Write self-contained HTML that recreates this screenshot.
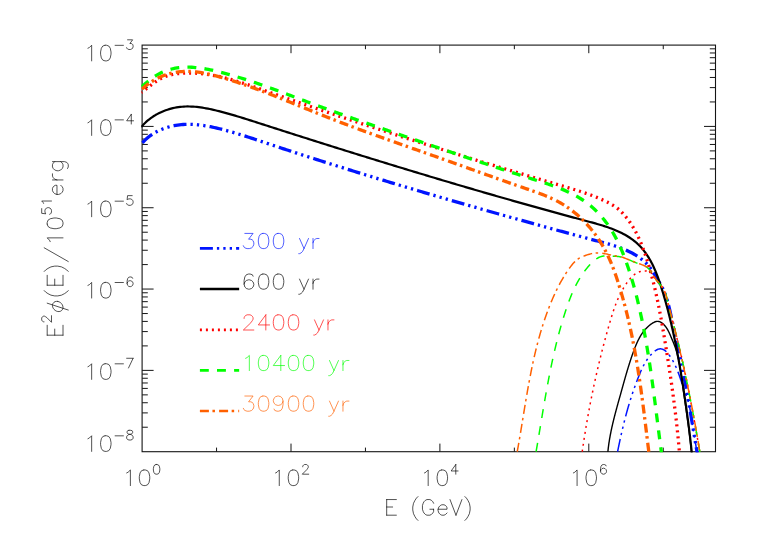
<!DOCTYPE html>
<html><head><meta charset="utf-8"><title>plot</title>
<style>html,body{margin:0;padding:0;background:#fff;font-family:"Liberation Sans",sans-serif;}svg{display:block}</style>
</head><body>
<svg width="758" height="542" viewBox="0 0 758 542">
<rect x="0" y="0" width="758" height="542" fill="#fff"/>
<clipPath id="c"><rect x="141.25" y="44.40" width="574.90" height="407.90"/></clipPath>
<rect x="142.10" y="45.10" width="573.40" height="406.60" fill="none" stroke="#151515" stroke-width="1.10"/>
<line x1="216.55" y1="451.70" x2="216.55" y2="447.60" stroke="#151515" stroke-width="1.00"/>
<line x1="216.55" y1="45.10" x2="216.55" y2="49.20" stroke="#151515" stroke-width="1.00"/>
<line x1="291.00" y1="451.70" x2="291.00" y2="443.60" stroke="#151515" stroke-width="1.00"/>
<line x1="291.00" y1="45.10" x2="291.00" y2="53.20" stroke="#151515" stroke-width="1.00"/>
<line x1="365.45" y1="451.70" x2="365.45" y2="447.60" stroke="#151515" stroke-width="1.00"/>
<line x1="365.45" y1="45.10" x2="365.45" y2="49.20" stroke="#151515" stroke-width="1.00"/>
<line x1="439.90" y1="451.70" x2="439.90" y2="443.60" stroke="#151515" stroke-width="1.00"/>
<line x1="439.90" y1="45.10" x2="439.90" y2="53.20" stroke="#151515" stroke-width="1.00"/>
<line x1="514.35" y1="451.70" x2="514.35" y2="447.60" stroke="#151515" stroke-width="1.00"/>
<line x1="514.35" y1="45.10" x2="514.35" y2="49.20" stroke="#151515" stroke-width="1.00"/>
<line x1="588.80" y1="451.70" x2="588.80" y2="443.60" stroke="#151515" stroke-width="1.00"/>
<line x1="588.80" y1="45.10" x2="588.80" y2="53.20" stroke="#151515" stroke-width="1.00"/>
<line x1="663.25" y1="451.70" x2="663.25" y2="447.60" stroke="#151515" stroke-width="1.00"/>
<line x1="663.25" y1="45.10" x2="663.25" y2="49.20" stroke="#151515" stroke-width="1.00"/>
<line x1="142.10" y1="427.22" x2="147.80" y2="427.22" stroke="#151515" stroke-width="1.00"/>
<line x1="715.50" y1="427.22" x2="709.80" y2="427.22" stroke="#151515" stroke-width="1.00"/>
<line x1="142.10" y1="412.90" x2="147.80" y2="412.90" stroke="#151515" stroke-width="1.00"/>
<line x1="715.50" y1="412.90" x2="709.80" y2="412.90" stroke="#151515" stroke-width="1.00"/>
<line x1="142.10" y1="402.74" x2="147.80" y2="402.74" stroke="#151515" stroke-width="1.00"/>
<line x1="715.50" y1="402.74" x2="709.80" y2="402.74" stroke="#151515" stroke-width="1.00"/>
<line x1="142.10" y1="394.86" x2="147.80" y2="394.86" stroke="#151515" stroke-width="1.00"/>
<line x1="715.50" y1="394.86" x2="709.80" y2="394.86" stroke="#151515" stroke-width="1.00"/>
<line x1="142.10" y1="388.42" x2="147.80" y2="388.42" stroke="#151515" stroke-width="1.00"/>
<line x1="715.50" y1="388.42" x2="709.80" y2="388.42" stroke="#151515" stroke-width="1.00"/>
<line x1="142.10" y1="382.98" x2="147.80" y2="382.98" stroke="#151515" stroke-width="1.00"/>
<line x1="715.50" y1="382.98" x2="709.80" y2="382.98" stroke="#151515" stroke-width="1.00"/>
<line x1="142.10" y1="378.26" x2="147.80" y2="378.26" stroke="#151515" stroke-width="1.00"/>
<line x1="715.50" y1="378.26" x2="709.80" y2="378.26" stroke="#151515" stroke-width="1.00"/>
<line x1="142.10" y1="374.10" x2="147.80" y2="374.10" stroke="#151515" stroke-width="1.00"/>
<line x1="715.50" y1="374.10" x2="709.80" y2="374.10" stroke="#151515" stroke-width="1.00"/>
<line x1="142.10" y1="370.38" x2="153.60" y2="370.38" stroke="#151515" stroke-width="1.00"/>
<line x1="715.50" y1="370.38" x2="704.00" y2="370.38" stroke="#151515" stroke-width="1.00"/>
<line x1="142.10" y1="345.90" x2="147.80" y2="345.90" stroke="#151515" stroke-width="1.00"/>
<line x1="715.50" y1="345.90" x2="709.80" y2="345.90" stroke="#151515" stroke-width="1.00"/>
<line x1="142.10" y1="331.58" x2="147.80" y2="331.58" stroke="#151515" stroke-width="1.00"/>
<line x1="715.50" y1="331.58" x2="709.80" y2="331.58" stroke="#151515" stroke-width="1.00"/>
<line x1="142.10" y1="321.42" x2="147.80" y2="321.42" stroke="#151515" stroke-width="1.00"/>
<line x1="715.50" y1="321.42" x2="709.80" y2="321.42" stroke="#151515" stroke-width="1.00"/>
<line x1="142.10" y1="313.54" x2="147.80" y2="313.54" stroke="#151515" stroke-width="1.00"/>
<line x1="715.50" y1="313.54" x2="709.80" y2="313.54" stroke="#151515" stroke-width="1.00"/>
<line x1="142.10" y1="307.10" x2="147.80" y2="307.10" stroke="#151515" stroke-width="1.00"/>
<line x1="715.50" y1="307.10" x2="709.80" y2="307.10" stroke="#151515" stroke-width="1.00"/>
<line x1="142.10" y1="301.66" x2="147.80" y2="301.66" stroke="#151515" stroke-width="1.00"/>
<line x1="715.50" y1="301.66" x2="709.80" y2="301.66" stroke="#151515" stroke-width="1.00"/>
<line x1="142.10" y1="296.94" x2="147.80" y2="296.94" stroke="#151515" stroke-width="1.00"/>
<line x1="715.50" y1="296.94" x2="709.80" y2="296.94" stroke="#151515" stroke-width="1.00"/>
<line x1="142.10" y1="292.78" x2="147.80" y2="292.78" stroke="#151515" stroke-width="1.00"/>
<line x1="715.50" y1="292.78" x2="709.80" y2="292.78" stroke="#151515" stroke-width="1.00"/>
<line x1="142.10" y1="289.06" x2="153.60" y2="289.06" stroke="#151515" stroke-width="1.00"/>
<line x1="715.50" y1="289.06" x2="704.00" y2="289.06" stroke="#151515" stroke-width="1.00"/>
<line x1="142.10" y1="264.58" x2="147.80" y2="264.58" stroke="#151515" stroke-width="1.00"/>
<line x1="715.50" y1="264.58" x2="709.80" y2="264.58" stroke="#151515" stroke-width="1.00"/>
<line x1="142.10" y1="250.26" x2="147.80" y2="250.26" stroke="#151515" stroke-width="1.00"/>
<line x1="715.50" y1="250.26" x2="709.80" y2="250.26" stroke="#151515" stroke-width="1.00"/>
<line x1="142.10" y1="240.10" x2="147.80" y2="240.10" stroke="#151515" stroke-width="1.00"/>
<line x1="715.50" y1="240.10" x2="709.80" y2="240.10" stroke="#151515" stroke-width="1.00"/>
<line x1="142.10" y1="232.22" x2="147.80" y2="232.22" stroke="#151515" stroke-width="1.00"/>
<line x1="715.50" y1="232.22" x2="709.80" y2="232.22" stroke="#151515" stroke-width="1.00"/>
<line x1="142.10" y1="225.78" x2="147.80" y2="225.78" stroke="#151515" stroke-width="1.00"/>
<line x1="715.50" y1="225.78" x2="709.80" y2="225.78" stroke="#151515" stroke-width="1.00"/>
<line x1="142.10" y1="220.34" x2="147.80" y2="220.34" stroke="#151515" stroke-width="1.00"/>
<line x1="715.50" y1="220.34" x2="709.80" y2="220.34" stroke="#151515" stroke-width="1.00"/>
<line x1="142.10" y1="215.62" x2="147.80" y2="215.62" stroke="#151515" stroke-width="1.00"/>
<line x1="715.50" y1="215.62" x2="709.80" y2="215.62" stroke="#151515" stroke-width="1.00"/>
<line x1="142.10" y1="211.46" x2="147.80" y2="211.46" stroke="#151515" stroke-width="1.00"/>
<line x1="715.50" y1="211.46" x2="709.80" y2="211.46" stroke="#151515" stroke-width="1.00"/>
<line x1="142.10" y1="207.74" x2="153.60" y2="207.74" stroke="#151515" stroke-width="1.00"/>
<line x1="715.50" y1="207.74" x2="704.00" y2="207.74" stroke="#151515" stroke-width="1.00"/>
<line x1="142.10" y1="183.26" x2="147.80" y2="183.26" stroke="#151515" stroke-width="1.00"/>
<line x1="715.50" y1="183.26" x2="709.80" y2="183.26" stroke="#151515" stroke-width="1.00"/>
<line x1="142.10" y1="168.94" x2="147.80" y2="168.94" stroke="#151515" stroke-width="1.00"/>
<line x1="715.50" y1="168.94" x2="709.80" y2="168.94" stroke="#151515" stroke-width="1.00"/>
<line x1="142.10" y1="158.78" x2="147.80" y2="158.78" stroke="#151515" stroke-width="1.00"/>
<line x1="715.50" y1="158.78" x2="709.80" y2="158.78" stroke="#151515" stroke-width="1.00"/>
<line x1="142.10" y1="150.90" x2="147.80" y2="150.90" stroke="#151515" stroke-width="1.00"/>
<line x1="715.50" y1="150.90" x2="709.80" y2="150.90" stroke="#151515" stroke-width="1.00"/>
<line x1="142.10" y1="144.46" x2="147.80" y2="144.46" stroke="#151515" stroke-width="1.00"/>
<line x1="715.50" y1="144.46" x2="709.80" y2="144.46" stroke="#151515" stroke-width="1.00"/>
<line x1="142.10" y1="139.02" x2="147.80" y2="139.02" stroke="#151515" stroke-width="1.00"/>
<line x1="715.50" y1="139.02" x2="709.80" y2="139.02" stroke="#151515" stroke-width="1.00"/>
<line x1="142.10" y1="134.30" x2="147.80" y2="134.30" stroke="#151515" stroke-width="1.00"/>
<line x1="715.50" y1="134.30" x2="709.80" y2="134.30" stroke="#151515" stroke-width="1.00"/>
<line x1="142.10" y1="130.14" x2="147.80" y2="130.14" stroke="#151515" stroke-width="1.00"/>
<line x1="715.50" y1="130.14" x2="709.80" y2="130.14" stroke="#151515" stroke-width="1.00"/>
<line x1="142.10" y1="126.42" x2="153.60" y2="126.42" stroke="#151515" stroke-width="1.00"/>
<line x1="715.50" y1="126.42" x2="704.00" y2="126.42" stroke="#151515" stroke-width="1.00"/>
<line x1="142.10" y1="101.94" x2="147.80" y2="101.94" stroke="#151515" stroke-width="1.00"/>
<line x1="715.50" y1="101.94" x2="709.80" y2="101.94" stroke="#151515" stroke-width="1.00"/>
<line x1="142.10" y1="87.62" x2="147.80" y2="87.62" stroke="#151515" stroke-width="1.00"/>
<line x1="715.50" y1="87.62" x2="709.80" y2="87.62" stroke="#151515" stroke-width="1.00"/>
<line x1="142.10" y1="77.46" x2="147.80" y2="77.46" stroke="#151515" stroke-width="1.00"/>
<line x1="715.50" y1="77.46" x2="709.80" y2="77.46" stroke="#151515" stroke-width="1.00"/>
<line x1="142.10" y1="69.58" x2="147.80" y2="69.58" stroke="#151515" stroke-width="1.00"/>
<line x1="715.50" y1="69.58" x2="709.80" y2="69.58" stroke="#151515" stroke-width="1.00"/>
<line x1="142.10" y1="63.14" x2="147.80" y2="63.14" stroke="#151515" stroke-width="1.00"/>
<line x1="715.50" y1="63.14" x2="709.80" y2="63.14" stroke="#151515" stroke-width="1.00"/>
<line x1="142.10" y1="57.70" x2="147.80" y2="57.70" stroke="#151515" stroke-width="1.00"/>
<line x1="715.50" y1="57.70" x2="709.80" y2="57.70" stroke="#151515" stroke-width="1.00"/>
<line x1="142.10" y1="52.98" x2="147.80" y2="52.98" stroke="#151515" stroke-width="1.00"/>
<line x1="715.50" y1="52.98" x2="709.80" y2="52.98" stroke="#151515" stroke-width="1.00"/>
<line x1="142.10" y1="48.82" x2="147.80" y2="48.82" stroke="#151515" stroke-width="1.00"/>
<line x1="715.50" y1="48.82" x2="709.80" y2="48.82" stroke="#151515" stroke-width="1.00"/>
<g clip-path="url(#c)">
<path d="M141.16 144.45 L142.31 143.02 L143.52 141.66 L144.79 140.34 L146.10 139.09 L147.46 137.88 L148.87 136.73 L150.33 135.64 L151.82 134.59 L153.36 133.60 L154.93 132.67 L156.54 131.78 L158.18 130.95 L159.84 130.17 L161.54 129.44 L163.26 128.76 L165.01 128.12 L166.77 127.54 L168.55 127.01 L170.35 126.53 L172.16 126.10 L173.98 125.72 L175.81 125.38 L177.64 125.09 L179.48 124.85 L181.32 124.65 L183.16 124.51 L185.00 124.40 L186.84 124.34 L188.67 124.33 L190.51 124.35 L192.34 124.41 L194.17 124.50 L196.00 124.64 L197.83 124.80 L199.65 125.00 L201.47 125.22 L203.29 125.48 L205.11 125.76 L206.92 126.06 L208.74 126.39 L210.54 126.74 L212.35 127.11 L214.15 127.50 L215.95 127.91 L217.75 128.33 L219.54 128.76 L221.33 129.21 L223.12 129.67 L224.90 130.13 L226.68 130.61 L228.45 131.10 L230.23 131.60 L232.00 132.10 L233.77 132.62 L235.53 133.14 L237.30 133.67 L239.06 134.21 L240.82 134.75 L242.58 135.30 L244.33 135.85 L246.09 136.41 L247.84 136.98 L249.59 137.55 L251.34 138.12 L253.09 138.69 L254.84 139.27 L256.59 139.85 L258.34 140.43 L260.09 141.02 L261.83 141.60 L263.58 142.18 L265.33 142.77 L267.08 143.35 L268.83 143.93 L270.58 144.51 L272.32 145.09 L274.07 145.67 L275.82 146.25 L277.57 146.83 L279.32 147.41 L281.07 147.98 L282.82 148.56 L284.57 149.13 L286.32 149.71 L288.07 150.28 L289.83 150.85 L291.58 151.43 L293.33 152.00 L295.08 152.57 L296.83 153.14 L298.59 153.70 L300.34 154.27 L302.09 154.84 L303.85 155.41 L305.60 155.97 L307.35 156.54 L309.11 157.10 L310.86 157.66 L312.61 158.23 L314.37 158.79 L316.12 159.35 L317.88 159.91 L319.63 160.47 L321.39 161.03 L323.15 161.59 L324.90 162.15 L326.66 162.70 L328.41 163.26 L330.17 163.81 L331.93 164.37 L333.69 164.92 L335.44 165.48 L337.20 166.03 L338.96 166.58 L340.72 167.13 L342.47 167.68 L344.23 168.23 L345.99 168.78 L347.75 169.33 L349.51 169.88 L351.27 170.43 L353.03 170.97 L354.79 171.52 L356.55 172.06 L358.31 172.61 L360.07 173.15 L361.83 173.70 L363.59 174.24 L365.35 174.78 L367.11 175.32 L368.87 175.86 L370.63 176.40 L372.40 176.94 L374.16 177.48 L375.92 178.02 L377.68 178.56 L379.44 179.09 L381.21 179.63 L382.97 180.16 L384.73 180.70 L386.50 181.23 L388.26 181.77 L390.02 182.30 L391.79 182.83 L393.55 183.36 L395.31 183.89 L397.08 184.43 L398.84 184.96 L400.61 185.48 L402.37 186.01 L404.14 186.54 L405.90 187.07 L407.67 187.60 L409.43 188.12 L411.20 188.65 L412.96 189.17 L414.73 189.70 L416.50 190.22 L418.26 190.74 L420.03 191.27 L421.80 191.79 L423.56 192.31 L425.33 192.83 L427.10 193.35 L428.86 193.87 L430.63 194.39 L432.40 194.91 L434.17 195.43 L435.94 195.95 L437.70 196.46 L439.47 196.98 L441.24 197.50 L443.01 198.01 L444.78 198.53 L446.55 199.04 L448.32 199.56 L450.08 200.07 L451.85 200.58 L453.62 201.10 L455.39 201.61 L457.16 202.12 L458.93 202.63 L460.70 203.14 L462.47 203.65 L464.24 204.16 L466.01 204.67 L467.78 205.18 L469.55 205.68 L471.32 206.19 L473.10 206.70 L474.87 207.20 L476.64 207.71 L478.41 208.21 L480.18 208.72 L481.95 209.22 L483.72 209.73 L485.50 210.23 L487.27 210.73 L489.04 211.24 L490.81 211.74 L492.58 212.24 L494.36 212.74 L496.13 213.24 L497.90 213.74 L499.68 214.24 L501.45 214.74 L503.22 215.24 L504.99 215.74 L506.77 216.23 L508.54 216.73 L510.31 217.23 L512.09 217.73 L513.86 218.22 L515.64 218.72 L517.41 219.21 L519.18 219.71 L520.96 220.20 L522.73 220.69 L524.51 221.19 L526.28 221.68 L528.05 222.17 L529.83 222.67 L531.60 223.16 L533.38 223.65 L535.15 224.14 L536.93 224.63 L538.70 225.12 L540.48 225.61 L542.25 226.10 L544.03 226.59 L545.80 227.08 L547.58 227.57 L549.36 228.05 L551.13 228.54 L552.91 229.03 L554.68 229.51 L556.46 230.00 L558.24 230.49 L560.01 230.97 L561.79 231.46 L563.57 231.94 L565.34 232.42 L567.12 232.91 L568.90 233.39 L570.68 233.87 L572.46 234.35 L574.24 234.83 L576.02 235.31 L577.80 235.79 L579.58 236.27 L581.36 236.75 L583.14 237.23 L584.92 237.70 L586.70 238.18 L588.48 238.66 L590.27 239.13 L592.05 239.60 L593.84 240.08 L595.62 240.55 L597.41 241.02 L599.19 241.49 L600.98 241.97 L602.76 242.44 L604.55 242.92 L606.33 243.41 L608.10 243.91 L609.87 244.42 L611.64 244.95 L613.40 245.49 L615.15 246.04 L616.90 246.62 L618.63 247.22 L620.36 247.85 L622.07 248.50 L623.78 249.18 L625.47 249.89 L627.15 250.63 L628.81 251.40 L630.46 252.22 L632.09 253.07 L633.71 253.96 L635.30 254.90 L636.88 255.88 L638.42 256.90 L639.93 257.96 L641.40 259.07 L642.84 260.22 L644.23 261.43 L645.58 262.67 L646.87 263.97 L648.12 265.32 L649.30 266.71 L650.42 268.16 L651.48 269.65 L652.49 271.19 L653.46 272.76 L654.40 274.35 L655.33 275.95 L656.26 277.55 L657.20 279.14 L658.17 280.71 L659.16 282.26 L660.14 283.81 L661.08 285.38 L661.96 286.97 L662.79 288.59 L663.56 290.24 L664.29 291.90 L664.97 293.59 L665.61 295.29 L666.21 297.01 L666.78 298.75 L667.31 300.50 L667.81 302.27 L668.29 304.04 L668.75 305.83 L669.19 307.62 L669.61 309.42 L670.02 311.23 L670.42 313.03 L670.82 314.84 L671.21 316.66 L671.61 318.46 L672.00 320.27 L672.40 322.08 L672.80 323.88 L673.20 325.69 L673.60 327.49 L674.00 329.29 L674.40 331.09 L674.80 332.89 L675.20 334.69 L675.60 336.49 L676.00 338.29 L676.40 340.09 L676.79 341.89 L677.19 343.68 L677.59 345.48 L677.98 347.28 L678.37 349.08 L678.76 350.87 L679.15 352.67 L679.54 354.47 L679.92 356.27 L680.30 358.07 L680.68 359.87 L681.05 361.67 L681.43 363.47 L681.80 365.27 L682.16 367.07 L682.52 368.88 L682.88 370.68 L683.24 372.49 L683.59 374.29 L683.94 376.10 L684.28 377.91 L684.62 379.72 L684.96 381.53 L685.30 383.34 L685.63 385.15 L685.96 386.97 L686.29 388.78 L686.62 390.59 L686.94 392.41 L687.26 394.22 L687.58 396.04 L687.90 397.86 L688.22 399.67 L688.53 401.49 L688.85 403.31 L689.16 405.12 L689.47 406.94 L689.78 408.76 L690.09 410.58 L690.39 412.39 L690.70 414.21 L691.00 416.03 L691.31 417.85 L691.61 419.67 L691.92 421.49 L692.22 423.31 L692.52 425.12 L692.82 426.94 L693.13 428.76 L693.43 430.58 L693.73 432.40 L694.04 434.21 L694.34 436.03 L694.64 437.85 L694.95 439.66 L695.25 441.48 L695.56 443.29 L695.87 445.11 L696.18 446.92 L696.49 448.74 L696.80 450.55 L697.11 452.36 L697.42 454.17 L697.74 455.98" fill="none" stroke="#0014ff" stroke-width="3.30" stroke-linejoin="round" stroke-dasharray="13.00 4.00 2.30 4.10 2.30 4.10 2.30 4.10" stroke-dashoffset="-2.00"/>
<path d="M617.59 451.70 L617.70 451.13 L617.82 450.56 L617.93 449.99 L618.05 449.42 L618.16 448.85 L618.28 448.28 L618.39 447.71 L618.51 447.15 L618.63 446.58 L618.74 446.01 L618.86 445.44 L618.98 444.87 L619.10 444.30 L619.22 443.73 L619.34 443.16 L619.46 442.60 L619.58 442.03 L619.70 441.46 L619.82 440.89 L619.94 440.32 L620.07 439.76 L620.19 439.19 L620.31 438.62 L620.44 438.05 L620.56 437.49 L620.69 436.92 L620.81 436.35 L620.94 435.79 L621.07 435.22 L621.19 434.65 L621.32 434.09 L621.45 433.52 L621.58 432.95 L621.71 432.39 L621.84 431.82 L621.97 431.26 L622.10 430.69 L622.23 430.12 L622.36 429.56 L622.49 428.99 L622.63 428.43 L622.76 427.86 L622.90 427.30 L623.03 426.73 L623.17 426.17 L623.30 425.61 L623.44 425.04 L623.58 424.48 L623.72 423.91 L623.86 423.35 L624.00 422.79 L624.14 422.22 L624.28 421.66 L624.42 421.10 L624.56 420.54 L624.71 419.97 L624.85 419.41 L624.99 418.85 L625.14 418.29 L625.29 417.73 L625.43 417.17 L625.58 416.60 L625.73 416.04 L625.88 415.48 L626.03 414.92 L626.18 414.36 L626.33 413.80 L626.48 413.24 L626.63 412.68 L626.79 412.12 L626.94 411.57 L627.10 411.01 L627.25 410.45 L627.41 409.89 L627.57 409.33 L627.72 408.77 L627.88 408.22 L628.04 407.66 L628.20 407.10 L628.36 406.54 L628.53 405.99 L628.69 405.43 L628.85 404.87 L629.02 404.32 L629.19 403.76 L629.35 403.21 L629.52 402.65 L629.69 402.10 L629.86 401.54 L630.03 400.99 L630.20 400.44 L630.37 399.88 L630.54 399.33 L630.72 398.77 L630.89 398.22 L631.07 397.67 L631.24 397.12 L631.42 396.56 L631.60 396.01 L631.78 395.46 L631.96 394.91 L632.14 394.36 L632.32 393.81 L632.51 393.26 L632.69 392.71 L632.88 392.16 L633.06 391.61 L633.25 391.06 L633.44 390.51 L633.63 389.96 L633.82 389.42 L634.01 388.87 L634.20 388.32 L634.39 387.77 L634.59 387.23 L634.78 386.68 L634.98 386.14 L635.18 385.59 L635.38 385.04 L635.58 384.50 L635.78 383.95 L635.98 383.41 L636.18 382.87 L636.39 382.32 L636.59 381.78 L636.80 381.24 L637.00 380.69 L637.21 380.15 L637.42 379.61 L637.63 379.07 L637.84 378.53 L638.06 377.99 L638.27 377.45 L638.49 376.91 L638.70 376.37 L638.92 375.83 L639.14 375.29 L639.36 374.75 L639.58 374.21 L639.80 373.68 L640.03 373.14 L640.25 372.60 L640.48 372.07 L640.71 371.54 L640.95 371.00 L641.18 370.47 L641.42 369.94 L641.66 369.41 L641.91 368.89 L642.16 368.36 L642.41 367.84 L642.66 367.31 L642.92 366.79 L643.18 366.27 L643.45 365.76 L643.72 365.24 L643.99 364.73 L644.27 364.22 L644.55 363.71 L644.84 363.21 L645.14 362.71 L645.44 362.21 L645.74 361.71 L646.05 361.21 L646.36 360.72 L646.68 360.24 L647.01 359.75 L647.34 359.27 L647.68 358.79 L648.03 358.32 L648.38 357.84 L648.74 357.38 L649.10 356.91 L649.48 356.45 L649.86 356.00 L650.24 355.54 L650.64 355.10 L651.04 354.65 L651.45 354.21 L651.87 353.78 L652.30 353.35 L652.73 352.92 L653.17 352.50 L653.62 352.09 L654.08 351.69 L654.55 351.31 L655.02 350.95 L655.50 350.60 L655.98 350.28 L656.47 349.98 L656.97 349.71 L657.47 349.48 L657.97 349.27 L658.48 349.11 L659.00 348.98 L659.51 348.89 L660.04 348.85 L660.56 348.85 L661.08 348.90 L661.60 348.98 L662.12 349.11 L662.63 349.27 L663.14 349.47 L663.64 349.70 L664.12 349.97 L664.60 350.27 L665.06 350.60 L665.52 350.95 L665.96 351.33 L666.38 351.74 L666.80 352.16 L667.21 352.60 L667.61 353.06 L668.00 353.52 L668.38 354.00 L668.75 354.48 L669.12 354.97 L669.48 355.46 L669.83 355.96 L670.17 356.45 L670.51 356.95 L670.84 357.45 L671.17 357.95 L671.49 358.45 L671.80 358.96 L672.11 359.46 L672.41 359.97 L672.70 360.48 L672.99 361.00 L673.28 361.51 L673.56 362.02 L673.83 362.54 L674.10 363.06 L674.36 363.58 L674.62 364.10 L674.87 364.62 L675.12 365.15 L675.37 365.67 L675.61 366.20 L675.85 366.73 L676.08 367.26 L676.31 367.79 L676.54 368.32 L676.76 368.85 L676.98 369.39 L677.20 369.92 L677.41 370.46 L677.62 370.99 L677.83 371.53 L678.03 372.07 L678.24 372.61 L678.44 373.15 L678.63 373.69 L678.83 374.24 L679.02 374.78 L679.22 375.32 L679.41 375.87 L679.60 376.41 L679.78 376.96 L679.97 377.50 L680.16 378.05 L680.34 378.60 L680.53 379.14 L680.71 379.69 L680.89 380.24 L681.07 380.79 L681.26 381.34 L681.44 381.88 L681.62 382.43 L681.80 382.98 L681.99 383.53 L682.17 384.08 L682.35 384.63 L682.54 385.18 L682.72 385.73 L682.91 386.28 L683.10 386.83 L683.29 387.38 L683.48 387.93 L683.67 388.47 L683.86 389.02 L684.06 389.57 L684.26 390.12 L684.46 390.67 L684.66 391.21 L684.86 391.76 L685.06 392.31 L685.27 392.86 L685.47 393.40 L685.68 393.95 L685.88 394.50 L686.08 395.04 L686.28 395.59 L686.48 396.14 L686.68 396.69 L686.88 397.24 L687.07 397.79 L687.26 398.34 L687.44 398.89 L687.63 399.45 L687.80 400.00 L687.98 400.55 L688.14 401.11 L688.31 401.67 L688.46 402.22 L688.62 402.78 L688.76 403.35 L688.90 403.91 L689.04 404.47 L689.17 405.03 L689.29 405.60 L689.41 406.17 L689.53 406.73 L689.64 407.30 L689.75 407.87 L689.86 408.44 L689.96 409.01 L690.06 409.58 L690.16 410.15 L690.25 410.73 L690.34 411.30 L690.43 411.87 L690.52 412.45 L690.60 413.02 L690.69 413.60 L690.77 414.17 L690.85 414.75 L690.94 415.32 L691.02 415.90 L691.10 416.47 L691.18 417.05 L691.26 417.62 L691.34 418.20 L691.43 418.78 L691.51 419.35 L691.60 419.93 L691.68 420.50 L691.77 421.07 L691.86 421.65 L691.95 422.22 L692.04 422.80 L692.13 423.37 L692.23 423.94 L692.32 424.52 L692.42 425.09 L692.52 425.66 L692.61 426.23 L692.71 426.81 L692.81 427.38 L692.91 427.95 L693.01 428.52 L693.11 429.09 L693.21 429.67 L693.31 430.24 L693.41 430.81 L693.51 431.38 L693.61 431.95 L693.71 432.52 L693.81 433.10 L693.92 433.67 L694.02 434.24 L694.12 434.81 L694.21 435.38 L694.31 435.95 L694.41 436.53 L694.51 437.10 L694.61 437.67 L694.70 438.24 L694.80 438.81 L694.90 439.39 L694.99 439.96 L695.09 440.53 L695.18 441.10 L695.27 441.68 L695.37 442.25 L695.46 442.82 L695.55 443.40 L695.64 443.97 L695.74 444.54 L695.83 445.11 L695.92 445.69 L696.01 446.26 L696.10 446.83 L696.19 447.41 L696.29 447.98 L696.38 448.55 L696.47 449.13 L696.56 449.70 L696.65 450.27 L696.75 450.85 L696.84 451.42 L696.93 451.99 L697.03 452.56 L697.12 453.14 L697.22 453.71 L697.31 454.28 L697.41 454.86 L697.50 455.43 L697.60 456.00" fill="none" stroke="#0014ff" stroke-width="1.50" stroke-linejoin="round" stroke-dasharray="13.00 4.00 2.30 4.10 2.30 4.10 2.30 4.10" stroke-dashoffset="0.00"/>
<path d="M141.20 127.07 L142.43 125.65 L143.71 124.27 L145.04 122.95 L146.41 121.67 L147.82 120.45 L149.28 119.27 L150.78 118.14 L152.31 117.07 L153.88 116.04 L155.48 115.07 L157.11 114.14 L158.78 113.27 L160.47 112.45 L162.18 111.68 L163.91 110.96 L165.67 110.30 L167.45 109.69 L169.24 109.13 L171.04 108.62 L172.86 108.17 L174.68 107.77 L176.52 107.43 L178.36 107.14 L180.20 106.90 L182.05 106.72 L183.89 106.58 L185.74 106.50 L187.59 106.47 L189.44 106.48 L191.29 106.54 L193.14 106.63 L194.99 106.77 L196.84 106.94 L198.69 107.15 L200.54 107.39 L202.38 107.67 L204.23 107.97 L206.07 108.30 L207.92 108.65 L209.76 109.03 L211.59 109.42 L213.43 109.84 L215.26 110.27 L217.09 110.71 L218.92 111.17 L220.74 111.64 L222.55 112.12 L224.37 112.60 L226.18 113.10 L227.99 113.60 L229.79 114.11 L231.59 114.63 L233.39 115.15 L235.19 115.68 L236.98 116.22 L238.78 116.76 L240.57 117.31 L242.36 117.86 L244.14 118.41 L245.93 118.97 L247.71 119.54 L249.50 120.10 L251.28 120.67 L253.06 121.24 L254.84 121.81 L256.62 122.38 L258.40 122.95 L260.18 123.53 L261.96 124.10 L263.74 124.67 L265.52 125.24 L267.30 125.81 L269.08 126.39 L270.86 126.96 L272.64 127.53 L274.42 128.10 L276.20 128.67 L277.99 129.24 L279.77 129.81 L281.55 130.38 L283.33 130.95 L285.11 131.52 L286.89 132.09 L288.67 132.65 L290.45 133.22 L292.24 133.79 L294.02 134.36 L295.80 134.93 L297.58 135.49 L299.36 136.06 L301.14 136.63 L302.93 137.19 L304.71 137.76 L306.49 138.32 L308.27 138.89 L310.06 139.45 L311.84 140.02 L313.62 140.58 L315.40 141.15 L317.19 141.71 L318.97 142.27 L320.75 142.84 L322.54 143.40 L324.32 143.96 L326.10 144.52 L327.89 145.08 L329.67 145.65 L331.45 146.21 L333.24 146.77 L335.02 147.33 L336.81 147.89 L338.59 148.45 L340.37 149.01 L342.16 149.56 L343.94 150.12 L345.73 150.68 L347.51 151.24 L349.30 151.80 L351.08 152.35 L352.87 152.91 L354.65 153.46 L356.44 154.02 L358.22 154.58 L360.01 155.13 L361.80 155.69 L363.58 156.24 L365.37 156.79 L367.15 157.35 L368.94 157.90 L370.73 158.45 L372.51 159.00 L374.30 159.56 L376.09 160.11 L377.87 160.66 L379.66 161.21 L381.45 161.76 L383.23 162.31 L385.02 162.86 L386.81 163.41 L388.60 163.95 L390.38 164.50 L392.17 165.05 L393.96 165.60 L395.75 166.14 L397.54 166.69 L399.33 167.23 L401.12 167.78 L402.90 168.32 L404.69 168.87 L406.48 169.41 L408.27 169.96 L410.06 170.50 L411.85 171.04 L413.64 171.58 L415.43 172.12 L417.22 172.67 L419.01 173.21 L420.80 173.75 L422.59 174.29 L424.38 174.82 L426.17 175.36 L427.96 175.90 L429.76 176.44 L431.55 176.98 L433.34 177.51 L435.13 178.05 L436.92 178.58 L438.71 179.12 L440.51 179.65 L442.30 180.19 L444.09 180.72 L445.88 181.25 L447.68 181.79 L449.47 182.32 L451.26 182.85 L453.06 183.38 L454.85 183.91 L456.64 184.44 L458.44 184.97 L460.23 185.50 L462.02 186.02 L463.82 186.55 L465.61 187.08 L467.41 187.61 L469.20 188.13 L471.00 188.66 L472.79 189.18 L474.59 189.71 L476.38 190.23 L478.18 190.75 L479.98 191.27 L481.77 191.80 L483.57 192.32 L485.37 192.84 L487.16 193.36 L488.96 193.88 L490.76 194.40 L492.55 194.91 L494.35 195.43 L496.15 195.95 L497.95 196.47 L499.75 196.98 L501.54 197.50 L503.34 198.01 L505.14 198.53 L506.94 199.04 L508.74 199.55 L510.54 200.06 L512.34 200.57 L514.14 201.09 L515.94 201.60 L517.74 202.11 L519.54 202.61 L521.34 203.12 L523.14 203.63 L524.94 204.14 L526.74 204.64 L528.54 205.15 L530.34 205.65 L532.15 206.16 L533.95 206.66 L535.75 207.17 L537.55 207.67 L539.35 208.17 L541.16 208.67 L542.96 209.17 L544.76 209.67 L546.57 210.17 L548.37 210.67 L550.18 211.17 L551.98 211.66 L553.78 212.16 L555.59 212.66 L557.39 213.15 L559.20 213.64 L561.00 214.14 L562.81 214.63 L564.61 215.12 L566.42 215.61 L568.23 216.11 L570.03 216.60 L571.84 217.08 L573.65 217.57 L575.45 218.06 L577.26 218.55 L579.07 219.03 L580.88 219.52 L582.68 220.00 L584.49 220.49 L586.30 220.97 L588.11 221.46 L589.92 221.94 L591.72 222.43 L593.53 222.93 L595.33 223.43 L597.13 223.94 L598.93 224.47 L600.72 225.00 L602.51 225.56 L604.29 226.12 L606.06 226.71 L607.84 227.31 L609.60 227.94 L611.36 228.59 L613.10 229.27 L614.84 229.97 L616.57 230.70 L618.30 231.46 L620.01 232.25 L621.70 233.08 L623.38 233.94 L625.04 234.84 L626.67 235.77 L628.28 236.74 L629.86 237.76 L631.40 238.81 L632.91 239.90 L634.38 241.04 L635.81 242.22 L637.19 243.44 L638.54 244.70 L639.83 246.00 L641.08 247.34 L642.29 248.71 L643.46 250.12 L644.58 251.56 L645.67 253.03 L646.71 254.54 L647.72 256.07 L648.70 257.63 L649.64 259.22 L650.55 260.83 L651.42 262.46 L652.27 264.12 L653.09 265.80 L653.88 267.49 L654.64 269.21 L655.38 270.94 L656.10 272.68 L656.79 274.44 L657.47 276.21 L658.12 277.99 L658.76 279.78 L659.39 281.58 L659.99 283.38 L660.59 285.19 L661.17 287.00 L661.74 288.82 L662.30 290.63 L662.86 292.45 L663.40 294.26 L663.94 296.07 L664.47 297.89 L664.99 299.70 L665.50 301.51 L666.01 303.32 L666.51 305.14 L667.00 306.95 L667.48 308.76 L667.96 310.57 L668.43 312.39 L668.89 314.20 L669.35 316.01 L669.80 317.83 L670.24 319.64 L670.68 321.45 L671.11 323.27 L671.53 325.08 L671.95 326.89 L672.36 328.71 L672.77 330.52 L673.17 332.34 L673.57 334.16 L673.96 335.97 L674.34 337.79 L674.72 339.61 L675.10 341.43 L675.47 343.25 L675.83 345.07 L676.19 346.89 L676.55 348.71 L676.90 350.54 L677.25 352.36 L677.59 354.19 L677.93 356.01 L678.27 357.84 L678.60 359.67 L678.92 361.50 L679.25 363.33 L679.57 365.16 L679.89 367.00 L680.20 368.83 L680.52 370.67 L680.82 372.51 L681.13 374.35 L681.43 376.19 L681.73 378.03 L682.03 379.87 L682.33 381.72 L682.62 383.57 L682.92 385.42 L683.21 387.27 L683.49 389.12 L683.78 390.98 L684.06 392.83 L684.35 394.69 L684.63 396.55 L684.90 398.40 L685.18 400.27 L685.45 402.13 L685.72 403.99 L685.99 405.85 L686.25 407.71 L686.52 409.58 L686.78 411.44 L687.04 413.30 L687.29 415.17 L687.54 417.03 L687.79 418.89 L688.04 420.76 L688.28 422.62 L688.52 424.48 L688.76 426.35 L689.00 428.21 L689.23 430.07 L689.46 431.93 L689.68 433.78 L689.91 435.64 L690.13 437.50 L690.34 439.35 L690.55 441.21 L690.76 443.06 L690.97 444.91 L691.17 446.75 L691.37 448.60 L691.57 450.44 L691.76 452.29 L691.95 454.12 L692.13 455.96" fill="none" stroke="#000000" stroke-width="2.20" stroke-linejoin="round"/>
<path d="M607.90 451.70 L607.97 450.98 L608.04 450.27 L608.11 449.56 L608.19 448.85 L608.28 448.14 L608.36 447.44 L608.45 446.73 L608.54 446.02 L608.63 445.31 L608.73 444.60 L608.83 443.89 L608.93 443.18 L609.04 442.47 L609.15 441.77 L609.26 441.06 L609.37 440.35 L609.49 439.65 L609.60 438.94 L609.73 438.23 L609.85 437.53 L609.98 436.82 L610.10 436.11 L610.23 435.41 L610.37 434.70 L610.50 434.00 L610.64 433.29 L610.78 432.59 L610.92 431.88 L611.07 431.18 L611.21 430.47 L611.36 429.77 L611.51 429.06 L611.66 428.36 L611.82 427.66 L611.97 426.95 L612.13 426.25 L612.29 425.55 L612.45 424.85 L612.61 424.15 L612.78 423.44 L612.94 422.74 L613.11 422.04 L613.28 421.34 L613.45 420.64 L613.62 419.94 L613.79 419.24 L613.97 418.54 L614.14 417.84 L614.32 417.14 L614.50 416.44 L614.68 415.74 L614.86 415.04 L615.04 414.34 L615.22 413.64 L615.41 412.94 L615.59 412.25 L615.78 411.55 L615.96 410.85 L616.15 410.15 L616.34 409.46 L616.52 408.76 L616.71 408.06 L616.90 407.37 L617.09 406.67 L617.28 405.97 L617.48 405.28 L617.67 404.58 L617.86 403.89 L618.05 403.19 L618.24 402.50 L618.44 401.81 L618.63 401.11 L618.83 400.42 L619.02 399.73 L619.21 399.03 L619.41 398.34 L619.60 397.65 L619.79 396.95 L619.99 396.26 L620.18 395.57 L620.38 394.88 L620.57 394.19 L620.76 393.50 L620.96 392.81 L621.15 392.12 L621.34 391.43 L621.53 390.74 L621.72 390.05 L621.92 389.36 L622.11 388.67 L622.30 387.98 L622.49 387.29 L622.68 386.60 L622.87 385.91 L623.07 385.23 L623.26 384.54 L623.45 383.85 L623.64 383.16 L623.83 382.48 L624.03 381.79 L624.22 381.10 L624.41 380.42 L624.61 379.73 L624.80 379.04 L625.00 378.36 L625.19 377.67 L625.39 376.99 L625.58 376.30 L625.78 375.62 L625.98 374.93 L626.18 374.25 L626.38 373.56 L626.58 372.88 L626.78 372.19 L626.98 371.51 L627.19 370.82 L627.39 370.14 L627.60 369.45 L627.80 368.77 L628.01 368.09 L628.22 367.40 L628.43 366.72 L628.64 366.03 L628.85 365.35 L629.07 364.67 L629.28 363.98 L629.50 363.30 L629.72 362.62 L629.94 361.93 L630.16 361.25 L630.38 360.57 L630.61 359.88 L630.83 359.20 L631.06 358.52 L631.29 357.83 L631.52 357.15 L631.76 356.47 L631.99 355.78 L632.23 355.10 L632.47 354.42 L632.71 353.73 L632.95 353.05 L633.20 352.37 L633.45 351.68 L633.70 351.00 L633.95 350.32 L634.21 349.63 L634.46 348.95 L634.72 348.27 L634.99 347.59 L635.26 346.91 L635.53 346.23 L635.80 345.56 L636.08 344.88 L636.37 344.21 L636.66 343.55 L636.95 342.88 L637.25 342.22 L637.56 341.56 L637.87 340.90 L638.18 340.25 L638.51 339.61 L638.84 338.96 L639.17 338.33 L639.51 337.69 L639.86 337.06 L640.22 336.44 L640.59 335.82 L640.96 335.21 L641.34 334.61 L641.73 334.01 L642.13 333.42 L642.53 332.83 L642.95 332.25 L643.37 331.68 L643.81 331.12 L644.25 330.56 L644.70 330.02 L645.17 329.48 L645.64 328.95 L646.13 328.43 L646.62 327.91 L647.13 327.41 L647.65 326.92 L648.18 326.43 L648.72 325.96 L649.27 325.50 L649.84 325.04 L650.42 324.60 L651.01 324.17 L651.61 323.75 L652.23 323.34 L652.86 322.96 L653.50 322.59 L654.15 322.26 L654.80 321.97 L655.46 321.72 L656.12 321.54 L656.78 321.41 L657.44 321.35 L658.10 321.37 L658.76 321.47 L659.40 321.65 L660.04 321.89 L660.67 322.19 L661.29 322.54 L661.89 322.94 L662.47 323.38 L663.03 323.85 L663.57 324.35 L664.09 324.86 L664.59 325.40 L665.07 325.95 L665.52 326.52 L665.96 327.10 L666.38 327.70 L666.79 328.31 L667.18 328.94 L667.55 329.57 L667.91 330.21 L668.26 330.87 L668.60 331.53 L668.93 332.19 L669.25 332.87 L669.56 333.54 L669.86 334.22 L670.16 334.90 L670.45 335.58 L670.74 336.26 L671.03 336.94 L671.31 337.62 L671.59 338.29 L671.87 338.96 L672.15 339.62 L672.43 340.29 L672.71 340.94 L672.99 341.60 L673.26 342.25 L673.53 342.91 L673.79 343.56 L674.05 344.22 L674.30 344.88 L674.55 345.54 L674.80 346.21 L675.03 346.87 L675.26 347.54 L675.49 348.21 L675.71 348.88 L675.93 349.56 L676.14 350.23 L676.34 350.91 L676.55 351.59 L676.74 352.27 L676.93 352.96 L677.12 353.64 L677.31 354.33 L677.48 355.02 L677.66 355.71 L677.83 356.40 L678.00 357.09 L678.16 357.79 L678.32 358.48 L678.48 359.18 L678.63 359.88 L678.78 360.58 L678.93 361.28 L679.07 361.98 L679.21 362.69 L679.35 363.39 L679.48 364.10 L679.61 364.80 L679.74 365.51 L679.87 366.22 L679.99 366.93 L680.11 367.64 L680.23 368.35 L680.35 369.06 L680.46 369.77 L680.57 370.49 L680.69 371.20 L680.80 371.92 L680.90 372.63 L681.01 373.35 L681.12 374.06 L681.22 374.78 L681.32 375.49 L681.42 376.21 L681.52 376.93 L681.62 377.64 L681.72 378.36 L681.82 379.08 L681.92 379.79 L682.02 380.51 L682.12 381.23 L682.21 381.95 L682.31 382.66 L682.41 383.38 L682.50 384.10 L682.60 384.81 L682.70 385.53 L682.80 386.24 L682.90 386.96 L682.99 387.67 L683.09 388.39 L683.19 389.10 L683.29 389.82 L683.39 390.53 L683.49 391.24 L683.59 391.96 L683.69 392.67 L683.79 393.38 L683.89 394.10 L683.99 394.81 L684.10 395.52 L684.20 396.23 L684.30 396.94 L684.40 397.65 L684.50 398.37 L684.60 399.08 L684.70 399.79 L684.81 400.50 L684.91 401.21 L685.01 401.92 L685.11 402.63 L685.21 403.34 L685.32 404.05 L685.42 404.76 L685.52 405.47 L685.62 406.18 L685.72 406.89 L685.83 407.60 L685.93 408.30 L686.03 409.01 L686.13 409.72 L686.23 410.43 L686.33 411.14 L686.43 411.85 L686.53 412.56 L686.63 413.27 L686.74 413.98 L686.84 414.68 L686.94 415.39 L687.04 416.10 L687.13 416.81 L687.23 417.52 L687.33 418.23 L687.43 418.94 L687.53 419.65 L687.63 420.35 L687.73 421.06 L687.82 421.77 L687.92 422.48 L688.02 423.19 L688.11 423.90 L688.21 424.61 L688.30 425.32 L688.40 426.03 L688.49 426.74 L688.59 427.45 L688.68 428.16 L688.77 428.87 L688.87 429.58 L688.96 430.29 L689.05 431.00 L689.14 431.71 L689.23 432.42 L689.32 433.13 L689.41 433.84 L689.50 434.55 L689.59 435.27 L689.68 435.98 L689.76 436.69 L689.85 437.40 L689.93 438.11 L690.02 438.83 L690.10 439.54 L690.19 440.25 L690.27 440.97 L690.35 441.68 L690.43 442.40 L690.51 443.11 L690.59 443.83 L690.67 444.54 L690.75 445.26 L690.83 445.97 L690.90 446.69 L690.98 447.40 L691.05 448.12 L691.13 448.84 L691.20 449.56 L691.27 450.27 L691.34 450.99 L691.41 451.71 L691.48 452.43 L691.55 453.15 L691.62 453.87 L691.69 454.59 L691.75 455.31 L691.82 456.03" fill="none" stroke="#000000" stroke-width="1.40" stroke-linejoin="round"/>
<path d="M141.23 92.39 L142.76 91.34 L144.28 90.23 L145.80 89.09 L147.32 87.93 L148.84 86.75 L150.38 85.57 L151.92 84.40 L153.48 83.24 L155.06 82.12 L156.66 81.04 L158.29 80.01 L159.94 79.04 L161.63 78.15 L163.36 77.34 L165.12 76.62 L166.92 75.98 L168.74 75.42 L170.59 74.93 L172.46 74.50 L174.35 74.14 L176.25 73.84 L178.16 73.60 L180.09 73.40 L182.01 73.25 L183.94 73.14 L185.87 73.07 L187.78 73.03 L189.70 73.02 L191.61 73.05 L193.51 73.10 L195.41 73.19 L197.31 73.30 L199.20 73.44 L201.09 73.61 L202.97 73.81 L204.85 74.03 L206.73 74.28 L208.60 74.55 L210.46 74.85 L212.33 75.17 L214.19 75.51 L216.05 75.87 L217.90 76.26 L219.75 76.66 L221.60 77.08 L223.44 77.52 L225.28 77.98 L227.12 78.45 L228.96 78.94 L230.80 79.44 L232.63 79.96 L234.46 80.49 L236.29 81.04 L238.11 81.59 L239.94 82.16 L241.76 82.74 L243.58 83.32 L245.40 83.92 L247.22 84.52 L249.04 85.13 L250.85 85.75 L252.67 86.37 L254.48 87.00 L256.30 87.63 L258.11 88.26 L259.92 88.90 L261.74 89.54 L263.55 90.18 L265.36 90.82 L267.17 91.45 L268.99 92.09 L270.80 92.73 L272.61 93.36 L274.42 94.00 L276.23 94.63 L278.05 95.26 L279.86 95.90 L281.67 96.53 L283.48 97.16 L285.30 97.79 L287.11 98.42 L288.92 99.05 L290.73 99.67 L292.54 100.30 L294.36 100.93 L296.17 101.55 L297.98 102.18 L299.79 102.80 L301.61 103.42 L303.42 104.04 L305.23 104.67 L307.04 105.29 L308.86 105.91 L310.67 106.52 L312.48 107.14 L314.30 107.76 L316.11 108.38 L317.92 108.99 L319.74 109.61 L321.55 110.22 L323.36 110.84 L325.18 111.45 L326.99 112.06 L328.80 112.67 L330.62 113.28 L332.43 113.90 L334.24 114.50 L336.06 115.11 L337.87 115.72 L339.68 116.33 L341.50 116.94 L343.31 117.54 L345.13 118.15 L346.94 118.75 L348.76 119.35 L350.57 119.96 L352.39 120.56 L354.20 121.16 L356.01 121.76 L357.83 122.36 L359.64 122.96 L361.46 123.56 L363.28 124.16 L365.09 124.76 L366.91 125.35 L368.72 125.95 L370.54 126.55 L372.35 127.14 L374.17 127.74 L375.99 128.33 L377.80 128.92 L379.62 129.51 L381.43 130.11 L383.25 130.70 L385.07 131.29 L386.89 131.88 L388.70 132.47 L390.52 133.05 L392.34 133.64 L394.15 134.23 L395.97 134.82 L397.79 135.40 L399.61 135.99 L401.43 136.57 L403.24 137.16 L405.06 137.74 L406.88 138.32 L408.70 138.91 L410.52 139.49 L412.34 140.07 L414.16 140.65 L415.98 141.23 L417.80 141.81 L419.62 142.39 L421.44 142.96 L423.26 143.54 L425.08 144.12 L426.90 144.70 L428.72 145.27 L430.54 145.85 L432.36 146.42 L434.18 147.00 L436.00 147.57 L437.82 148.14 L439.65 148.71 L441.47 149.29 L443.29 149.86 L445.11 150.43 L446.94 151.00 L448.76 151.57 L450.58 152.14 L452.40 152.71 L454.23 153.27 L456.05 153.84 L457.88 154.41 L459.70 154.98 L461.52 155.54 L463.35 156.11 L465.17 156.67 L467.00 157.24 L468.82 157.80 L470.65 158.36 L472.48 158.93 L474.30 159.49 L476.13 160.05 L477.95 160.61 L479.78 161.17 L481.61 161.73 L483.44 162.29 L485.26 162.85 L487.09 163.41 L488.92 163.97 L490.75 164.53 L492.58 165.09 L494.40 165.64 L496.23 166.20 L498.06 166.75 L499.89 167.31 L501.72 167.87 L503.55 168.42 L505.38 168.97 L507.21 169.53 L509.04 170.08 L510.87 170.63 L512.71 171.19 L514.54 171.74 L516.37 172.29 L518.20 172.84 L520.03 173.39 L521.87 173.94 L523.70 174.49 L525.53 175.04 L527.37 175.59 L529.20 176.14 L531.04 176.69 L532.87 177.24 L534.71 177.78 L536.54 178.33 L538.38 178.88 L540.21 179.42 L542.05 179.97 L543.88 180.51 L545.72 181.06 L547.56 181.60 L549.40 182.15 L551.23 182.69 L553.07 183.23 L554.91 183.78 L556.75 184.32 L558.59 184.86 L560.43 185.40 L562.27 185.95 L564.11 186.49 L565.95 187.03 L567.79 187.57 L569.62 188.12 L571.46 188.67 L573.29 189.23 L575.13 189.79 L576.96 190.36 L578.78 190.94 L580.60 191.52 L582.42 192.12 L584.23 192.73 L586.04 193.34 L587.84 193.98 L589.64 194.62 L591.43 195.28 L593.22 195.96 L594.99 196.65 L596.76 197.37 L598.52 198.10 L600.27 198.85 L602.01 199.62 L603.75 200.41 L605.47 201.23 L607.18 202.07 L608.88 202.94 L610.56 203.85 L612.22 204.79 L613.84 205.79 L615.42 206.85 L616.96 207.97 L618.44 209.16 L619.88 210.43 L621.26 211.75 L622.60 213.12 L623.90 214.53 L625.15 215.98 L626.36 217.46 L627.54 218.96 L628.68 220.49 L629.78 222.04 L630.85 223.61 L631.88 225.21 L632.88 226.83 L633.84 228.46 L634.78 230.12 L635.69 231.79 L636.57 233.48 L637.42 235.19 L638.25 236.91 L639.05 238.65 L639.82 240.40 L640.58 242.16 L641.31 243.93 L642.02 245.71 L642.71 247.50 L643.39 249.30 L644.04 251.11 L644.68 252.92 L645.31 254.74 L645.92 256.56 L646.52 258.38 L647.11 260.21 L647.69 262.04 L648.25 263.87 L648.80 265.71 L649.35 267.54 L649.88 269.38 L650.41 271.22 L650.92 273.06 L651.42 274.91 L651.92 276.75 L652.40 278.60 L652.88 280.45 L653.35 282.30 L653.81 284.15 L654.26 286.00 L654.70 287.86 L655.14 289.72 L655.57 291.58 L655.99 293.44 L656.40 295.30 L656.81 297.16 L657.21 299.03 L657.60 300.89 L657.99 302.76 L658.37 304.63 L658.75 306.50 L659.12 308.37 L659.48 310.24 L659.84 312.12 L660.20 313.99 L660.55 315.87 L660.90 317.74 L661.24 319.62 L661.58 321.50 L661.91 323.38 L662.24 325.26 L662.57 327.14 L662.90 329.02 L663.22 330.90 L663.54 332.78 L663.86 334.67 L664.17 336.55 L664.49 338.44 L664.80 340.32 L665.11 342.21 L665.42 344.10 L665.73 345.98 L666.04 347.87 L666.34 349.76 L666.65 351.65 L666.95 353.53 L667.25 355.42 L667.55 357.31 L667.85 359.20 L668.14 361.09 L668.44 362.98 L668.73 364.88 L669.02 366.77 L669.31 368.66 L669.60 370.55 L669.88 372.45 L670.16 374.34 L670.44 376.23 L670.72 378.13 L671.00 380.02 L671.27 381.91 L671.54 383.81 L671.81 385.70 L672.08 387.60 L672.34 389.50 L672.60 391.39 L672.86 393.29 L673.12 395.19 L673.37 397.08 L673.63 398.98 L673.87 400.88 L674.12 402.78 L674.36 404.67 L674.60 406.57 L674.84 408.47 L675.08 410.37 L675.31 412.27 L675.54 414.17 L675.76 416.07 L675.99 417.96 L676.20 419.86 L676.42 421.76 L676.63 423.66 L676.84 425.56 L677.05 427.46 L677.25 429.37 L677.45 431.27 L677.65 433.17 L677.84 435.07 L678.03 436.97 L678.21 438.87 L678.40 440.77 L678.57 442.67 L678.75 444.57 L678.92 446.47 L679.09 448.37 L679.25 450.28 L679.41 452.18 L679.56 454.08 L679.71 455.98" fill="none" stroke="#ff0000" stroke-width="3.30" stroke-linejoin="round" stroke-dasharray="2.00 4.00" stroke-dashoffset="0.90"/>
<path d="M582.23 451.69 L582.37 450.71 L582.51 449.73 L582.65 448.75 L582.80 447.77 L582.94 446.79 L583.08 445.81 L583.23 444.83 L583.37 443.85 L583.52 442.87 L583.67 441.89 L583.82 440.91 L583.97 439.93 L584.12 438.95 L584.27 437.97 L584.42 436.99 L584.58 436.01 L584.73 435.03 L584.89 434.05 L585.05 433.08 L585.20 432.10 L585.36 431.12 L585.52 430.14 L585.68 429.16 L585.85 428.18 L586.01 427.20 L586.17 426.22 L586.34 425.24 L586.51 424.26 L586.67 423.28 L586.84 422.30 L587.01 421.32 L587.18 420.34 L587.35 419.36 L587.53 418.38 L587.70 417.40 L587.88 416.42 L588.05 415.45 L588.23 414.47 L588.41 413.49 L588.58 412.51 L588.76 411.53 L588.95 410.55 L589.13 409.58 L589.31 408.60 L589.49 407.62 L589.68 406.64 L589.87 405.66 L590.05 404.69 L590.24 403.71 L590.43 402.73 L590.62 401.76 L590.81 400.78 L591.00 399.80 L591.20 398.82 L591.39 397.85 L591.59 396.87 L591.78 395.90 L591.98 394.92 L592.18 393.94 L592.38 392.97 L592.58 391.99 L592.78 391.02 L592.99 390.04 L593.19 389.07 L593.39 388.10 L593.60 387.12 L593.81 386.15 L594.01 385.17 L594.22 384.20 L594.43 383.23 L594.65 382.25 L594.86 381.28 L595.07 380.31 L595.28 379.34 L595.50 378.36 L595.72 377.39 L595.93 376.42 L596.15 375.45 L596.37 374.48 L596.59 373.51 L596.81 372.54 L597.04 371.57 L597.26 370.60 L597.49 369.63 L597.71 368.66 L597.94 367.69 L598.17 366.72 L598.40 365.75 L598.63 364.79 L598.86 363.82 L599.09 362.85 L599.32 361.88 L599.56 360.92 L599.79 359.95 L600.03 358.99 L600.27 358.02 L600.50 357.06 L600.74 356.09 L600.98 355.13 L601.23 354.16 L601.47 353.20 L601.71 352.23 L601.96 351.27 L602.20 350.31 L602.45 349.35 L602.70 348.39 L602.95 347.42 L603.20 346.46 L603.45 345.50 L603.70 344.54 L603.96 343.58 L604.21 342.62 L604.47 341.66 L604.72 340.71 L604.98 339.75 L605.24 338.79 L605.50 337.83 L605.76 336.88 L606.02 335.92 L606.28 334.97 L606.55 334.01 L606.81 333.06 L607.08 332.10 L607.35 331.15 L607.62 330.19 L607.88 329.24 L608.16 328.29 L608.43 327.34 L608.70 326.39 L608.97 325.43 L609.25 324.48 L609.52 323.53 L609.80 322.59 L610.08 321.64 L610.36 320.69 L610.64 319.74 L610.92 318.79 L611.21 317.85 L611.49 316.90 L611.78 315.96 L612.08 315.02 L612.37 314.07 L612.67 313.13 L612.98 312.20 L613.29 311.26 L613.60 310.32 L613.92 309.39 L614.24 308.45 L614.57 307.52 L614.90 306.60 L615.24 305.67 L615.59 304.74 L615.94 303.82 L616.30 302.90 L616.67 301.98 L617.04 301.07 L617.42 300.15 L617.81 299.24 L618.21 298.33 L618.61 297.43 L619.03 296.53 L619.45 295.63 L619.89 294.73 L620.33 293.84 L620.78 292.95 L621.25 292.06 L621.72 291.18 L622.21 290.30 L622.70 289.42 L623.21 288.55 L623.73 287.68 L624.26 286.81 L624.80 285.95 L625.36 285.09 L625.93 284.24 L626.51 283.39 L627.11 282.55 L627.72 281.71 L628.34 280.89 L628.98 280.08 L629.63 279.29 L630.30 278.52 L630.98 277.77 L631.68 277.04 L632.39 276.34 L633.13 275.67 L633.87 275.03 L634.64 274.43 L635.42 273.87 L636.22 273.35 L637.04 272.87 L637.87 272.43 L638.73 272.04 L639.60 271.71 L640.49 271.43 L641.40 271.20 L642.33 271.04 L643.29 270.93 L644.26 270.89 L645.25 270.91 L646.25 271.01 L647.25 271.18 L648.23 271.43 L649.18 271.77 L650.09 272.19 L650.93 272.70 L651.70 273.31 L652.39 274.02 L653.01 274.80 L653.58 275.64 L654.11 276.52 L654.64 277.41 L655.18 278.28 L655.74 279.14 L656.32 279.97 L656.93 280.78 L657.57 281.56 L658.25 282.31 L658.94 283.05 L659.64 283.78 L660.32 284.52 L660.97 285.28 L661.58 286.05 L662.15 286.85 L662.68 287.67 L663.18 288.50 L663.64 289.36 L664.07 290.23 L664.47 291.11 L664.85 292.01 L665.20 292.92 L665.53 293.84 L665.84 294.78 L666.13 295.72 L666.41 296.67 L666.67 297.63 L666.92 298.59 L667.17 299.56 L667.41 300.53 L667.64 301.50 L667.87 302.48 L668.10 303.45 L668.34 304.42 L668.57 305.40 L668.81 306.37 L669.05 307.34 L669.28 308.31 L669.52 309.28 L669.76 310.25 L670.00 311.22 L670.25 312.19 L670.49 313.15 L670.73 314.12 L670.98 315.09 L671.22 316.05 L671.47 317.02 L671.72 317.98 L671.96 318.95 L672.21 319.91 L672.46 320.88 L672.71 321.84 L672.96 322.81 L673.20 323.77 L673.45 324.73 L673.70 325.69 L673.95 326.66 L674.20 327.62 L674.45 328.58 L674.70 329.54 L674.95 330.50 L675.20 331.47 L675.45 332.43 L675.69 333.39 L675.94 334.35 L676.19 335.31 L676.44 336.27 L676.68 337.23 L676.93 338.20 L677.17 339.16 L677.42 340.12 L677.66 341.08 L677.91 342.04 L678.15 343.00 L678.39 343.97 L678.63 344.93 L678.87 345.89 L679.11 346.86 L679.34 347.82 L679.58 348.78 L679.82 349.75 L680.05 350.71 L680.28 351.68 L680.51 352.64 L680.74 353.61 L680.97 354.57 L681.20 355.54 L681.42 356.50 L681.65 357.47 L681.87 358.44 L682.10 359.40 L682.32 360.37 L682.54 361.34 L682.76 362.31 L682.97 363.28 L683.19 364.25 L683.41 365.22 L683.62 366.18 L683.84 367.15 L684.05 368.12 L684.26 369.09 L684.47 370.07 L684.68 371.04 L684.89 372.01 L685.10 372.98 L685.30 373.95 L685.51 374.92 L685.71 375.89 L685.92 376.87 L686.12 377.84 L686.32 378.81 L686.52 379.78 L686.72 380.76 L686.92 381.73 L687.12 382.71 L687.32 383.68 L687.51 384.65 L687.71 385.63 L687.90 386.60 L688.10 387.58 L688.29 388.55 L688.48 389.53 L688.68 390.50 L688.87 391.48 L689.06 392.45 L689.25 393.43 L689.44 394.40 L689.63 395.38 L689.81 396.36 L690.00 397.33 L690.19 398.31 L690.37 399.29 L690.56 400.26 L690.74 401.24 L690.93 402.22 L691.11 403.19 L691.30 404.17 L691.48 405.15 L691.66 406.12 L691.84 407.10 L692.02 408.08 L692.20 409.06 L692.38 410.03 L692.56 411.01 L692.74 411.99 L692.92 412.97 L693.10 413.95 L693.28 414.92 L693.45 415.90 L693.63 416.88 L693.81 417.86 L693.99 418.84 L694.16 419.82 L694.34 420.79 L694.51 421.77 L694.69 422.75 L694.86 423.73 L695.04 424.71 L695.21 425.69 L695.39 426.66 L695.56 427.64 L695.73 428.62 L695.91 429.60 L696.08 430.58 L696.25 431.56 L696.43 432.54 L696.60 433.51 L696.77 434.49 L696.94 435.47 L697.12 436.45 L697.29 437.43 L697.46 438.40 L697.63 439.38 L697.81 440.36 L697.98 441.34 L698.15 442.32 L698.32 443.29 L698.49 444.27 L698.67 445.25 L698.84 446.23 L699.01 447.21 L699.18 448.18 L699.36 449.16 L699.53 450.14 L699.70 451.11 L699.87 452.09 L700.05 453.07 L700.22 454.05 L700.39 455.02 L700.57 456.00" fill="none" stroke="#ff0000" stroke-width="1.50" stroke-linejoin="round" stroke-dasharray="2.00 4.00" stroke-dashoffset="0.00"/>
<path d="M141.18 86.76 L142.74 85.68 L144.21 84.56 L145.64 83.41 L147.04 82.25 L148.43 81.09 L149.84 79.94 L151.29 78.80 L152.80 77.70 L154.37 76.63 L155.99 75.61 L157.65 74.63 L159.35 73.71 L161.08 72.84 L162.82 72.04 L164.58 71.29 L166.35 70.62 L168.13 70.01 L169.91 69.47 L171.70 68.99 L173.50 68.57 L175.30 68.21 L177.11 67.90 L178.92 67.65 L180.74 67.45 L182.57 67.30 L184.39 67.20 L186.23 67.15 L188.06 67.14 L189.90 67.18 L191.74 67.25 L193.58 67.37 L195.42 67.52 L197.27 67.70 L199.12 67.92 L200.96 68.17 L202.81 68.45 L204.65 68.75 L206.50 69.08 L208.34 69.44 L210.18 69.81 L212.02 70.20 L213.86 70.62 L215.70 71.04 L217.53 71.48 L219.35 71.93 L221.18 72.39 L223.00 72.86 L224.81 73.34 L226.62 73.83 L228.43 74.32 L230.23 74.83 L232.03 75.34 L233.83 75.86 L235.63 76.39 L237.42 76.93 L239.20 77.47 L240.99 78.02 L242.77 78.58 L244.55 79.14 L246.33 79.71 L248.10 80.29 L249.87 80.87 L251.64 81.46 L253.41 82.05 L255.17 82.65 L256.93 83.26 L258.69 83.86 L260.45 84.48 L262.21 85.10 L263.96 85.72 L265.72 86.34 L267.47 86.97 L269.22 87.61 L270.97 88.24 L272.72 88.88 L274.46 89.52 L276.21 90.17 L277.95 90.82 L279.70 91.46 L281.44 92.12 L283.19 92.77 L284.93 93.42 L286.67 94.08 L288.41 94.73 L290.16 95.39 L291.90 96.05 L293.64 96.71 L295.38 97.36 L297.12 98.02 L298.87 98.68 L300.61 99.33 L302.35 99.99 L304.10 100.65 L305.84 101.30 L307.59 101.95 L309.34 102.60 L311.09 103.25 L312.83 103.90 L314.58 104.54 L316.33 105.19 L318.08 105.83 L319.84 106.48 L321.59 107.12 L323.34 107.76 L325.09 108.39 L326.85 109.03 L328.60 109.67 L330.36 110.30 L332.12 110.94 L333.87 111.57 L335.63 112.20 L337.39 112.83 L339.15 113.46 L340.91 114.09 L342.67 114.71 L344.43 115.34 L346.19 115.97 L347.95 116.59 L349.71 117.21 L351.47 117.84 L353.23 118.46 L354.99 119.08 L356.76 119.70 L358.52 120.32 L360.28 120.93 L362.05 121.55 L363.81 122.17 L365.57 122.78 L367.34 123.40 L369.10 124.01 L370.87 124.63 L372.63 125.24 L374.40 125.85 L376.16 126.46 L377.93 127.07 L379.69 127.68 L381.46 128.29 L383.23 128.90 L384.99 129.51 L386.76 130.12 L388.52 130.73 L390.29 131.34 L392.05 131.95 L393.82 132.55 L395.59 133.16 L397.35 133.77 L399.12 134.37 L400.88 134.98 L402.65 135.58 L404.41 136.19 L406.18 136.79 L407.94 137.40 L409.71 138.00 L411.47 138.61 L413.23 139.21 L415.00 139.82 L416.76 140.42 L418.52 141.03 L420.29 141.63 L422.05 142.23 L423.81 142.84 L425.57 143.44 L427.34 144.05 L429.10 144.65 L430.86 145.25 L432.62 145.86 L434.38 146.46 L436.14 147.06 L437.90 147.67 L439.66 148.27 L441.42 148.87 L443.19 149.48 L444.95 150.08 L446.71 150.68 L448.47 151.28 L450.23 151.88 L451.99 152.48 L453.75 153.08 L455.51 153.68 L457.28 154.28 L459.04 154.88 L460.80 155.48 L462.56 156.08 L464.32 156.68 L466.09 157.27 L467.85 157.87 L469.61 158.47 L471.38 159.06 L473.14 159.66 L474.91 160.25 L476.67 160.84 L478.44 161.44 L480.21 162.03 L481.97 162.62 L483.74 163.21 L485.51 163.80 L487.28 164.39 L489.05 164.98 L490.82 165.57 L492.59 166.16 L494.36 166.74 L496.13 167.33 L497.91 167.91 L499.68 168.50 L501.45 169.08 L503.23 169.66 L505.01 170.25 L506.78 170.83 L508.56 171.41 L510.34 171.98 L512.12 172.56 L513.90 173.14 L515.68 173.71 L517.47 174.29 L519.25 174.86 L521.03 175.43 L522.82 176.00 L524.61 176.57 L526.40 177.14 L528.19 177.71 L529.98 178.28 L531.77 178.84 L533.56 179.41 L535.36 179.97 L537.15 180.54 L538.94 181.10 L540.73 181.67 L542.52 182.25 L544.31 182.83 L546.09 183.42 L547.87 184.01 L549.65 184.61 L551.42 185.23 L553.18 185.85 L554.94 186.49 L556.69 187.14 L558.43 187.80 L560.16 188.48 L561.89 189.18 L563.60 189.89 L565.31 190.62 L567.00 191.38 L568.68 192.15 L570.34 192.95 L572.00 193.77 L573.64 194.61 L575.26 195.48 L576.87 196.38 L578.47 197.30 L580.04 198.25 L581.60 199.24 L583.15 200.25 L584.67 201.30 L586.17 202.38 L587.66 203.49 L589.12 204.64 L590.56 205.82 L591.98 207.04 L593.38 208.28 L594.76 209.55 L596.11 210.85 L597.43 212.18 L598.73 213.53 L600.00 214.91 L601.25 216.31 L602.47 217.73 L603.66 219.18 L604.83 220.64 L605.96 222.13 L607.06 223.63 L608.14 225.15 L609.19 226.69 L610.21 228.25 L611.21 229.82 L612.18 231.40 L613.13 233.00 L614.05 234.62 L614.95 236.25 L615.83 237.89 L616.69 239.55 L617.53 241.21 L618.34 242.89 L619.14 244.58 L619.92 246.28 L620.67 247.99 L621.42 249.70 L622.14 251.43 L622.85 253.16 L623.54 254.90 L624.22 256.65 L624.89 258.40 L625.54 260.15 L626.18 261.91 L626.81 263.68 L627.42 265.45 L628.03 267.22 L628.62 268.99 L629.21 270.76 L629.78 272.54 L630.35 274.32 L630.90 276.10 L631.45 277.89 L631.98 279.67 L632.51 281.46 L633.03 283.25 L633.54 285.05 L634.04 286.84 L634.53 288.64 L635.02 290.44 L635.50 292.24 L635.97 294.04 L636.43 295.85 L636.88 297.65 L637.33 299.46 L637.77 301.27 L638.20 303.08 L638.63 304.90 L639.05 306.71 L639.47 308.53 L639.87 310.34 L640.28 312.16 L640.67 313.98 L641.06 315.80 L641.45 317.63 L641.83 319.45 L642.21 321.28 L642.58 323.10 L642.94 324.93 L643.30 326.76 L643.66 328.59 L644.01 330.42 L644.35 332.25 L644.69 334.08 L645.03 335.92 L645.36 337.75 L645.69 339.59 L646.01 341.43 L646.33 343.26 L646.65 345.10 L646.96 346.94 L647.27 348.78 L647.57 350.62 L647.87 352.46 L648.17 354.31 L648.47 356.15 L648.76 357.99 L649.04 359.84 L649.33 361.68 L649.61 363.53 L649.89 365.37 L650.16 367.22 L650.44 369.07 L650.71 370.91 L650.97 372.76 L651.24 374.61 L651.50 376.46 L651.76 378.31 L652.02 380.16 L652.28 382.01 L652.53 383.86 L652.78 385.71 L653.03 387.56 L653.28 389.41 L653.53 391.26 L653.77 393.12 L654.02 394.97 L654.26 396.82 L654.50 398.67 L654.74 400.52 L654.98 402.38 L655.22 404.23 L655.46 406.08 L655.70 407.93 L655.93 409.78 L656.17 411.64 L656.40 413.49 L656.64 415.34 L656.87 417.19 L657.11 419.04 L657.34 420.89 L657.58 422.74 L657.81 424.60 L658.05 426.45 L658.28 428.30 L658.52 430.15 L658.75 431.99 L658.99 433.84 L659.23 435.69 L659.46 437.54 L659.70 439.39 L659.94 441.23 L660.18 443.08 L660.42 444.93 L660.67 446.77 L660.91 448.62 L661.16 450.46 L661.40 452.31 L661.65 454.15 L661.90 455.99" fill="none" stroke="#00ff00" stroke-width="3.30" stroke-linejoin="round" stroke-dasharray="8.90 8.20" stroke-dashoffset="-0.25"/>
<path d="M536.08 451.73 L536.28 450.60 L536.48 449.47 L536.67 448.33 L536.87 447.20 L537.06 446.07 L537.26 444.93 L537.45 443.80 L537.64 442.67 L537.83 441.54 L538.02 440.40 L538.21 439.27 L538.41 438.14 L538.60 437.01 L538.79 435.87 L538.98 434.74 L539.16 433.61 L539.35 432.48 L539.54 431.34 L539.73 430.21 L539.92 429.08 L540.11 427.95 L540.30 426.82 L540.48 425.68 L540.67 424.55 L540.86 423.42 L541.05 422.29 L541.24 421.16 L541.43 420.03 L541.62 418.90 L541.80 417.76 L541.99 416.63 L542.18 415.50 L542.37 414.37 L542.56 413.24 L542.75 412.11 L542.94 410.98 L543.13 409.85 L543.33 408.72 L543.52 407.59 L543.71 406.46 L543.90 405.33 L544.10 404.20 L544.29 403.07 L544.49 401.95 L544.68 400.82 L544.88 399.69 L545.07 398.56 L545.27 397.43 L545.47 396.30 L545.67 395.18 L545.87 394.05 L546.07 392.92 L546.27 391.79 L546.48 390.67 L546.68 389.54 L546.89 388.42 L547.09 387.29 L547.30 386.16 L547.51 385.04 L547.72 383.91 L547.93 382.79 L548.14 381.66 L548.35 380.54 L548.57 379.42 L548.78 378.29 L549.00 377.17 L549.22 376.04 L549.44 374.92 L549.66 373.80 L549.88 372.68 L550.11 371.56 L550.33 370.43 L550.56 369.31 L550.79 368.19 L551.02 367.07 L551.25 365.95 L551.49 364.83 L551.72 363.71 L551.96 362.59 L552.20 361.47 L552.44 360.35 L552.68 359.24 L552.93 358.12 L553.18 357.00 L553.43 355.88 L553.68 354.77 L553.93 353.65 L554.18 352.54 L554.44 351.42 L554.70 350.31 L554.96 349.19 L555.23 348.08 L555.49 346.96 L555.76 345.85 L556.03 344.74 L556.30 343.62 L556.58 342.51 L556.86 341.40 L557.14 340.29 L557.42 339.18 L557.71 338.07 L557.99 336.96 L558.28 335.85 L558.58 334.74 L558.87 333.63 L559.17 332.53 L559.47 331.42 L559.77 330.31 L560.08 329.21 L560.39 328.10 L560.70 327.00 L561.02 325.89 L561.33 324.79 L561.65 323.68 L561.98 322.58 L562.30 321.48 L562.63 320.37 L562.97 319.27 L563.30 318.17 L563.64 317.07 L563.98 315.97 L564.33 314.87 L564.68 313.77 L565.03 312.68 L565.38 311.58 L565.74 310.48 L566.11 309.39 L566.47 308.29 L566.84 307.20 L567.22 306.11 L567.60 305.02 L567.99 303.93 L568.38 302.85 L568.78 301.77 L569.18 300.69 L569.59 299.61 L570.00 298.54 L570.43 297.47 L570.86 296.40 L571.29 295.34 L571.73 294.28 L572.18 293.22 L572.64 292.17 L573.11 291.12 L573.58 290.08 L574.07 289.04 L574.56 288.00 L575.06 286.97 L575.57 285.95 L576.09 284.93 L576.62 283.92 L577.15 282.91 L577.70 281.91 L578.26 280.91 L578.83 279.93 L579.41 278.94 L580.00 277.97 L580.60 277.00 L581.22 276.03 L581.84 275.08 L582.48 274.13 L583.13 273.19 L583.79 272.26 L584.47 271.33 L585.15 270.42 L585.85 269.51 L586.57 268.61 L587.29 267.72 L588.04 266.83 L588.79 265.96 L589.56 265.10 L590.34 264.24 L591.14 263.40 L591.96 262.58 L592.79 261.78 L593.65 261.01 L594.52 260.27 L595.41 259.57 L596.33 258.92 L597.27 258.32 L598.23 257.77 L599.22 257.29 L600.24 256.87 L601.28 256.52 L602.36 256.25 L603.46 256.06 L604.60 255.95 L605.76 255.91 L606.93 255.92 L608.13 255.97 L609.32 256.05 L610.52 256.13 L611.72 256.21 L612.91 256.26 L614.08 256.30 L615.25 256.33 L616.39 256.37 L617.53 256.43 L618.65 256.54 L619.76 256.69 L620.86 256.90 L621.94 257.16 L623.02 257.46 L624.09 257.80 L625.15 258.18 L626.20 258.58 L627.25 259.01 L628.30 259.46 L629.35 259.93 L630.40 260.40 L631.45 260.87 L632.51 261.34 L633.58 261.79 L634.66 262.22 L635.75 262.62 L636.86 262.99 L637.99 263.33 L639.11 263.66 L640.23 263.98 L641.33 264.33 L642.41 264.72 L643.46 265.16 L644.46 265.67 L645.43 266.23 L646.35 266.85 L647.23 267.52 L648.07 268.25 L648.86 269.03 L649.60 269.87 L650.30 270.76 L650.95 271.69 L651.57 272.66 L652.17 273.65 L652.77 274.64 L653.37 275.63 L653.98 276.60 L654.61 277.57 L655.26 278.52 L655.93 279.45 L656.61 280.37 L657.32 281.28 L658.05 282.17 L658.80 283.04 L659.56 283.91 L660.32 284.78 L661.07 285.66 L661.80 286.55 L662.50 287.45 L663.17 288.38 L663.78 289.33 L664.34 290.31 L664.83 291.32 L665.27 292.36 L665.66 293.42 L666.01 294.50 L666.32 295.60 L666.61 296.72 L666.86 297.85 L667.11 298.98 L667.34 300.13 L667.56 301.27 L667.79 302.41 L668.03 303.55 L668.28 304.69 L668.54 305.81 L668.80 306.94 L669.08 308.06 L669.36 309.17 L669.65 310.29 L669.95 311.40 L670.25 312.50 L670.55 313.61 L670.85 314.72 L671.16 315.82 L671.46 316.93 L671.76 318.03 L672.06 319.14 L672.36 320.24 L672.66 321.35 L672.96 322.45 L673.25 323.56 L673.55 324.67 L673.84 325.78 L674.13 326.88 L674.42 327.99 L674.71 329.10 L674.99 330.21 L675.28 331.32 L675.56 332.43 L675.84 333.54 L676.13 334.65 L676.40 335.76 L676.68 336.87 L676.96 337.99 L677.24 339.10 L677.51 340.21 L677.78 341.32 L678.05 342.44 L678.33 343.55 L678.59 344.66 L678.86 345.78 L679.13 346.89 L679.39 348.01 L679.66 349.12 L679.92 350.24 L680.18 351.35 L680.44 352.47 L680.70 353.59 L680.96 354.70 L681.22 355.82 L681.47 356.94 L681.73 358.06 L681.98 359.17 L682.23 360.29 L682.49 361.41 L682.74 362.53 L682.98 363.65 L683.23 364.77 L683.48 365.89 L683.73 367.01 L683.97 368.13 L684.21 369.25 L684.46 370.37 L684.70 371.49 L684.94 372.61 L685.18 373.73 L685.42 374.85 L685.65 375.97 L685.89 377.10 L686.12 378.22 L686.36 379.34 L686.59 380.46 L686.83 381.59 L687.06 382.71 L687.29 383.83 L687.52 384.96 L687.75 386.08 L687.97 387.20 L688.20 388.33 L688.43 389.45 L688.65 390.58 L688.88 391.70 L689.10 392.83 L689.32 393.95 L689.54 395.08 L689.76 396.20 L689.98 397.33 L690.20 398.45 L690.42 399.58 L690.64 400.71 L690.86 401.83 L691.07 402.96 L691.29 404.09 L691.50 405.21 L691.72 406.34 L691.93 407.47 L692.14 408.59 L692.35 409.72 L692.56 410.85 L692.77 411.98 L692.98 413.10 L693.19 414.23 L693.40 415.36 L693.61 416.49 L693.81 417.61 L694.02 418.74 L694.23 419.87 L694.43 421.00 L694.63 422.13 L694.84 423.26 L695.04 424.39 L695.24 425.51 L695.45 426.64 L695.65 427.77 L695.85 428.90 L696.05 430.03 L696.25 431.16 L696.45 432.29 L696.65 433.42 L696.84 434.55 L697.04 435.68 L697.24 436.81 L697.43 437.93 L697.63 439.06 L697.83 440.19 L698.02 441.32 L698.22 442.45 L698.41 443.58 L698.60 444.71 L698.80 445.84 L698.99 446.97 L699.18 448.10 L699.38 449.23 L699.57 450.36 L699.76 451.49 L699.95 452.62 L700.14 453.75 L700.33 454.88 L700.52 456.01" fill="none" stroke="#00ff00" stroke-width="1.50" stroke-linejoin="round" stroke-dasharray="8.90 8.20" stroke-dashoffset="0.00"/>
<path d="M141.31 89.63 L142.69 88.39 L144.10 87.18 L145.54 86.00 L147.01 84.87 L148.52 83.77 L150.04 82.72 L151.60 81.70 L153.17 80.73 L154.77 79.80 L156.39 78.91 L158.03 78.07 L159.69 77.28 L161.36 76.53 L163.05 75.83 L164.75 75.18 L166.46 74.58 L168.18 74.04 L169.91 73.54 L171.64 73.10 L173.39 72.71 L175.13 72.38 L176.89 72.09 L178.64 71.86 L180.40 71.68 L182.17 71.54 L183.93 71.45 L185.70 71.41 L187.48 71.40 L189.25 71.44 L191.03 71.52 L192.81 71.63 L194.59 71.78 L196.37 71.97 L198.16 72.18 L199.94 72.43 L201.73 72.71 L203.51 73.02 L205.30 73.36 L207.08 73.72 L208.86 74.10 L210.65 74.50 L212.43 74.93 L214.21 75.38 L215.99 75.84 L217.76 76.32 L219.54 76.81 L221.31 77.32 L223.07 77.83 L224.84 78.36 L226.60 78.89 L228.36 79.43 L230.11 79.98 L231.86 80.53 L233.60 81.09 L235.35 81.66 L237.08 82.23 L238.82 82.81 L240.55 83.39 L242.28 83.98 L244.01 84.58 L245.73 85.17 L247.45 85.78 L249.17 86.39 L250.88 87.00 L252.59 87.62 L254.30 88.24 L256.01 88.87 L257.72 89.50 L259.42 90.13 L261.12 90.77 L262.82 91.41 L264.51 92.06 L266.21 92.70 L267.90 93.36 L269.59 94.01 L271.28 94.67 L272.97 95.33 L274.65 95.99 L276.34 96.65 L278.02 97.32 L279.70 97.99 L281.38 98.66 L283.06 99.33 L284.74 100.01 L286.42 100.68 L288.10 101.36 L289.78 102.04 L291.45 102.72 L293.13 103.40 L294.80 104.08 L296.48 104.76 L298.15 105.44 L299.83 106.12 L301.50 106.81 L303.18 107.49 L304.85 108.17 L306.53 108.85 L308.20 109.53 L309.88 110.21 L311.56 110.89 L313.23 111.57 L314.91 112.25 L316.59 112.92 L318.27 113.60 L319.95 114.27 L321.63 114.94 L323.31 115.61 L325.00 116.28 L326.68 116.94 L328.37 117.61 L330.06 118.27 L331.75 118.93 L333.44 119.58 L335.13 120.24 L336.82 120.89 L338.51 121.54 L340.21 122.19 L341.90 122.84 L343.60 123.48 L345.30 124.12 L347.00 124.77 L348.70 125.41 L350.40 126.04 L352.10 126.68 L353.80 127.31 L355.50 127.95 L357.21 128.58 L358.91 129.21 L360.62 129.84 L362.32 130.47 L364.03 131.09 L365.74 131.72 L367.45 132.34 L369.16 132.96 L370.87 133.58 L372.58 134.20 L374.29 134.82 L376.00 135.44 L377.71 136.06 L379.42 136.67 L381.14 137.29 L382.85 137.90 L384.56 138.51 L386.28 139.13 L387.99 139.74 L389.71 140.35 L391.42 140.96 L393.13 141.56 L394.85 142.17 L396.57 142.78 L398.28 143.39 L400.00 143.99 L401.71 144.60 L403.43 145.20 L405.14 145.81 L406.86 146.41 L408.58 147.02 L410.29 147.62 L412.01 148.22 L413.72 148.83 L415.44 149.43 L417.16 150.03 L418.87 150.64 L420.59 151.24 L422.30 151.84 L424.02 152.44 L425.73 153.05 L427.44 153.65 L429.16 154.25 L430.87 154.85 L432.58 155.46 L434.30 156.06 L436.01 156.66 L437.72 157.27 L439.43 157.87 L441.14 158.48 L442.85 159.08 L444.56 159.69 L446.27 160.29 L447.98 160.90 L449.69 161.51 L451.39 162.11 L453.10 162.72 L454.80 163.33 L456.51 163.94 L458.21 164.55 L459.92 165.16 L461.62 165.77 L463.32 166.38 L465.02 166.99 L466.73 167.60 L468.43 168.22 L470.13 168.83 L471.83 169.44 L473.54 170.05 L475.24 170.66 L476.94 171.28 L478.64 171.89 L480.34 172.50 L482.05 173.11 L483.75 173.73 L485.45 174.34 L487.16 174.95 L488.86 175.56 L490.57 176.17 L492.27 176.78 L493.98 177.39 L495.69 178.00 L497.39 178.61 L499.10 179.22 L500.81 179.83 L502.52 180.43 L504.23 181.04 L505.95 181.64 L507.66 182.25 L509.38 182.85 L511.09 183.46 L512.81 184.06 L514.53 184.66 L516.25 185.26 L517.97 185.86 L519.70 186.46 L521.42 187.05 L523.15 187.65 L524.88 188.24 L526.61 188.84 L528.34 189.43 L530.07 190.03 L531.80 190.63 L533.53 191.24 L535.25 191.85 L536.97 192.47 L538.69 193.10 L540.40 193.74 L542.10 194.39 L543.80 195.06 L545.49 195.74 L547.17 196.43 L548.84 197.15 L550.49 197.88 L552.14 198.63 L553.78 199.41 L555.40 200.21 L557.01 201.03 L558.60 201.88 L560.18 202.76 L561.74 203.66 L563.28 204.59 L564.81 205.55 L566.32 206.53 L567.81 207.55 L569.29 208.58 L570.75 209.65 L572.19 210.73 L573.61 211.84 L575.02 212.98 L576.41 214.14 L577.77 215.32 L579.12 216.52 L580.46 217.75 L581.77 218.99 L583.06 220.26 L584.34 221.55 L585.59 222.86 L586.83 224.19 L588.04 225.54 L589.24 226.90 L590.42 228.29 L591.57 229.69 L592.71 231.11 L593.82 232.55 L594.91 234.00 L595.99 235.47 L597.04 236.95 L598.07 238.45 L599.08 239.97 L600.06 241.50 L601.03 243.04 L601.97 244.59 L602.89 246.16 L603.79 247.74 L604.67 249.33 L605.52 250.94 L606.35 252.55 L607.16 254.18 L607.94 255.81 L608.71 257.46 L609.46 259.11 L610.19 260.77 L610.90 262.44 L611.59 264.12 L612.27 265.81 L612.93 267.50 L613.57 269.20 L614.21 270.90 L614.82 272.62 L615.43 274.33 L616.02 276.05 L616.60 277.77 L617.17 279.50 L617.74 281.23 L618.29 282.97 L618.83 284.70 L619.37 286.44 L619.90 288.18 L620.42 289.92 L620.94 291.66 L621.45 293.41 L621.95 295.15 L622.45 296.90 L622.94 298.65 L623.42 300.40 L623.90 302.15 L624.37 303.90 L624.84 305.65 L625.30 307.41 L625.75 309.17 L626.19 310.92 L626.63 312.68 L627.07 314.44 L627.50 316.20 L627.92 317.97 L628.34 319.73 L628.75 321.50 L629.16 323.26 L629.56 325.03 L629.95 326.80 L630.34 328.57 L630.73 330.34 L631.10 332.12 L631.48 333.89 L631.85 335.66 L632.21 337.44 L632.57 339.22 L632.92 341.00 L633.27 342.78 L633.61 344.56 L633.95 346.34 L634.29 348.12 L634.62 349.91 L634.94 351.69 L635.26 353.48 L635.58 355.26 L635.89 357.05 L636.20 358.84 L636.51 360.63 L636.81 362.42 L637.10 364.21 L637.40 366.00 L637.69 367.79 L637.97 369.59 L638.26 371.38 L638.54 373.18 L638.81 374.97 L639.09 376.77 L639.36 378.56 L639.62 380.36 L639.89 382.16 L640.15 383.96 L640.41 385.75 L640.66 387.55 L640.92 389.35 L641.17 391.15 L641.42 392.95 L641.66 394.75 L641.91 396.55 L642.15 398.35 L642.39 400.15 L642.63 401.96 L642.87 403.76 L643.10 405.56 L643.33 407.36 L643.57 409.16 L643.80 410.97 L644.02 412.77 L644.25 414.57 L644.48 416.37 L644.70 418.18 L644.93 419.98 L645.15 421.78 L645.37 423.58 L645.59 425.39 L645.81 427.19 L646.03 428.99 L646.25 430.79 L646.47 432.59 L646.69 434.40 L646.91 436.20 L647.13 438.00 L647.35 439.80 L647.56 441.60 L647.78 443.40 L648.00 445.20 L648.22 447.00 L648.44 448.80 L648.66 450.60 L648.88 452.40 L649.10 454.19 L649.32 455.99" fill="none" stroke="#ff6000" stroke-width="3.30" stroke-linejoin="round" stroke-dasharray="9.00 3.55 2.50 4.15" stroke-dashoffset="-0.75"/>
<path d="M517.23 451.69 L517.44 450.53 L517.66 449.36 L517.87 448.19 L518.07 447.02 L518.28 445.84 L518.49 444.67 L518.69 443.50 L518.90 442.33 L519.10 441.15 L519.30 439.98 L519.50 438.81 L519.70 437.63 L519.90 436.46 L520.10 435.28 L520.29 434.11 L520.49 432.93 L520.69 431.75 L520.88 430.58 L521.08 429.40 L521.27 428.22 L521.47 427.04 L521.66 425.87 L521.85 424.69 L522.05 423.51 L522.24 422.33 L522.43 421.15 L522.63 419.97 L522.82 418.79 L523.01 417.61 L523.20 416.43 L523.40 415.25 L523.59 414.07 L523.78 412.89 L523.98 411.71 L524.17 410.53 L524.36 409.35 L524.56 408.17 L524.75 406.99 L524.95 405.81 L525.15 404.63 L525.34 403.45 L525.54 402.27 L525.74 401.09 L525.94 399.91 L526.14 398.73 L526.34 397.55 L526.54 396.37 L526.74 395.19 L526.94 394.01 L527.15 392.83 L527.35 391.66 L527.56 390.48 L527.77 389.30 L527.98 388.12 L528.19 386.94 L528.40 385.77 L528.62 384.59 L528.83 383.41 L529.05 382.24 L529.27 381.06 L529.49 379.89 L529.71 378.71 L529.93 377.54 L530.16 376.36 L530.39 375.19 L530.62 374.02 L530.85 372.84 L531.08 371.67 L531.32 370.50 L531.55 369.33 L531.79 368.16 L532.03 366.99 L532.28 365.82 L532.53 364.65 L532.77 363.48 L533.03 362.32 L533.28 361.15 L533.54 359.98 L533.80 358.82 L534.06 357.66 L534.32 356.49 L534.59 355.33 L534.86 354.17 L535.13 353.01 L535.41 351.85 L535.69 350.69 L535.97 349.53 L536.26 348.37 L536.54 347.21 L536.84 346.06 L537.13 344.90 L537.43 343.75 L537.73 342.60 L538.03 341.44 L538.34 340.29 L538.65 339.14 L538.97 337.99 L539.29 336.85 L539.61 335.70 L539.94 334.55 L540.27 333.41 L540.60 332.26 L540.94 331.12 L541.28 329.98 L541.63 328.84 L541.98 327.70 L542.33 326.56 L542.69 325.43 L543.05 324.29 L543.42 323.16 L543.79 322.03 L544.16 320.89 L544.54 319.76 L544.92 318.64 L545.31 317.51 L545.71 316.38 L546.10 315.26 L546.50 314.14 L546.91 313.01 L547.32 311.89 L547.74 310.77 L548.16 309.66 L548.59 308.54 L549.02 307.43 L549.45 306.31 L549.90 305.20 L550.34 304.09 L550.79 302.99 L551.25 301.88 L551.71 300.77 L552.18 299.67 L552.65 298.57 L553.13 297.47 L553.62 296.38 L554.11 295.28 L554.60 294.19 L555.11 293.11 L555.62 292.02 L556.13 290.94 L556.66 289.86 L557.19 288.79 L557.72 287.72 L558.27 286.65 L558.82 285.59 L559.37 284.53 L559.94 283.48 L560.51 282.43 L561.09 281.38 L561.68 280.34 L562.28 279.31 L562.88 278.28 L563.49 277.25 L564.11 276.23 L564.74 275.22 L565.38 274.21 L566.02 273.21 L566.68 272.21 L567.34 271.22 L568.01 270.24 L568.69 269.26 L569.38 268.29 L570.08 267.33 L570.79 266.38 L571.52 265.43 L572.26 264.50 L573.02 263.60 L573.81 262.72 L574.62 261.87 L575.47 261.05 L576.35 260.27 L577.27 259.53 L578.24 258.85 L579.25 258.21 L580.31 257.63 L581.41 257.09 L582.53 256.59 L583.67 256.13 L584.82 255.70 L585.98 255.28 L587.13 254.89 L588.28 254.53 L589.43 254.20 L590.58 253.89 L591.73 253.63 L592.89 253.40 L594.04 253.22 L595.20 253.08 L596.36 253.00 L597.53 252.96 L598.70 252.97 L599.87 253.04 L601.05 253.14 L602.23 253.28 L603.41 253.45 L604.59 253.65 L605.77 253.87 L606.96 254.11 L608.14 254.36 L609.33 254.62 L610.51 254.88 L611.70 255.14 L612.88 255.39 L614.06 255.63 L615.24 255.85 L616.41 256.05 L617.59 256.22 L618.76 256.39 L619.91 256.58 L621.05 256.83 L622.17 257.14 L623.28 257.51 L624.38 257.93 L625.47 258.37 L626.56 258.84 L627.65 259.30 L628.76 259.76 L629.87 260.21 L630.98 260.64 L632.11 261.06 L633.24 261.48 L634.37 261.90 L635.50 262.31 L636.64 262.72 L637.77 263.13 L638.90 263.55 L640.03 263.97 L641.15 264.40 L642.27 264.84 L643.38 265.30 L644.47 265.78 L645.52 266.30 L646.52 266.89 L647.45 267.55 L648.30 268.31 L649.08 269.16 L649.80 270.08 L650.47 271.06 L651.11 272.07 L651.73 273.10 L652.35 274.14 L652.98 275.17 L653.63 276.18 L654.31 277.18 L655.00 278.15 L655.72 279.11 L656.45 280.06 L657.21 280.99 L658.00 281.90 L658.79 282.81 L659.59 283.71 L660.36 284.63 L661.08 285.57 L661.76 286.53 L662.39 287.52 L662.98 288.53 L663.53 289.57 L664.04 290.62 L664.52 291.69 L664.96 292.78 L665.38 293.88 L665.77 294.99 L666.15 296.12 L666.50 297.25 L666.84 298.40 L667.16 299.55 L667.48 300.70 L667.79 301.86 L668.09 303.02 L668.40 304.18 L668.70 305.33 L669.00 306.49 L669.30 307.65 L669.61 308.81 L669.91 309.97 L670.20 311.13 L670.50 312.29 L670.80 313.45 L671.10 314.61 L671.39 315.77 L671.69 316.93 L671.98 318.09 L672.28 319.25 L672.57 320.41 L672.86 321.57 L673.15 322.73 L673.44 323.89 L673.73 325.05 L674.02 326.21 L674.31 327.37 L674.60 328.53 L674.88 329.70 L675.17 330.86 L675.45 332.02 L675.74 333.18 L676.02 334.34 L676.30 335.50 L676.58 336.66 L676.86 337.82 L677.14 338.99 L677.42 340.15 L677.70 341.31 L677.97 342.47 L678.25 343.63 L678.52 344.80 L678.80 345.96 L679.07 347.12 L679.34 348.28 L679.62 349.45 L679.89 350.61 L680.16 351.77 L680.43 352.93 L680.69 354.10 L680.96 355.26 L681.23 356.42 L681.49 357.59 L681.76 358.75 L682.02 359.92 L682.28 361.08 L682.55 362.24 L682.81 363.41 L683.07 364.57 L683.33 365.74 L683.59 366.90 L683.84 368.07 L684.10 369.23 L684.35 370.40 L684.61 371.56 L684.86 372.73 L685.12 373.90 L685.37 375.06 L685.62 376.23 L685.87 377.39 L686.12 378.56 L686.37 379.73 L686.61 380.89 L686.86 382.06 L687.11 383.23 L687.35 384.40 L687.60 385.56 L687.84 386.73 L688.08 387.90 L688.32 389.07 L688.56 390.24 L688.80 391.41 L689.04 392.57 L689.28 393.74 L689.51 394.91 L689.75 396.08 L689.98 397.25 L690.22 398.42 L690.45 399.59 L690.68 400.76 L690.91 401.93 L691.14 403.10 L691.37 404.27 L691.60 405.44 L691.82 406.62 L692.05 407.79 L692.27 408.96 L692.50 410.13 L692.72 411.30 L692.94 412.48 L693.16 413.65 L693.38 414.82 L693.60 416.00 L693.82 417.17 L694.04 418.34 L694.25 419.52 L694.47 420.69 L694.68 421.86 L694.90 423.04 L695.11 424.21 L695.32 425.39 L695.53 426.56 L695.74 427.74 L695.95 428.92 L696.15 430.09 L696.36 431.27 L696.57 432.45 L696.77 433.62 L696.97 434.80 L697.18 435.98 L697.38 437.16 L697.58 438.33 L697.78 439.51 L697.97 440.69 L698.17 441.87 L698.37 443.05 L698.56 444.23 L698.76 445.41 L698.95 446.59 L699.14 447.77 L699.33 448.95 L699.52 450.13 L699.71 451.31 L699.90 452.49 L700.09 453.68 L700.27 454.86 L700.46 456.04" fill="none" stroke="#ff6000" stroke-width="1.50" stroke-linejoin="round" stroke-dasharray="9.00 3.55 2.50 4.15" stroke-dashoffset="0.00"/>
</g>
<path d="M126.65 472.94 L128.14 472.19 L130.38 469.96 L130.38 485.60 M143.79 469.96 L141.55 470.70 L140.06 472.94 L139.32 476.66 L139.32 478.90 L140.06 482.62 L141.55 484.86 L143.79 485.60 L145.28 485.60 L147.51 484.86 L149.00 482.62 L149.75 478.90 L149.75 476.66 L149.00 472.94 L147.51 470.70 L145.28 469.96 L143.79 469.96 M156.14 464.50 L154.75 464.96 L153.83 466.35 L153.37 468.66 L153.37 470.04 L153.83 472.35 L154.75 473.74 L156.14 474.20 L157.06 474.20 L158.45 473.74 L159.37 472.35 L159.83 470.04 L159.83 468.66 L159.37 466.35 L158.45 464.96 L157.06 464.50 L156.14 464.50" fill="none" stroke="#000" stroke-width="0.68" stroke-linecap="round" stroke-linejoin="round" stroke-opacity="1.00"/>
<path d="M275.55 472.94 L277.04 472.19 L279.28 469.96 L279.28 485.60 M292.69 469.96 L290.45 470.70 L288.96 472.94 L288.22 476.66 L288.22 478.90 L288.96 482.62 L290.45 484.86 L292.69 485.60 L294.18 485.60 L296.41 484.86 L297.90 482.62 L298.65 478.90 L298.65 476.66 L297.90 472.94 L296.41 470.70 L294.18 469.96 L292.69 469.96 M302.73 466.81 L302.73 466.35 L303.19 465.43 L303.65 464.96 L304.58 464.50 L306.42 464.50 L307.35 464.96 L307.81 465.43 L308.27 466.35 L308.27 467.27 L307.81 468.20 L306.89 469.58 L302.27 474.20 L308.73 474.20" fill="none" stroke="#000" stroke-width="0.68" stroke-linecap="round" stroke-linejoin="round" stroke-opacity="1.00"/>
<path d="M424.45 472.94 L425.94 472.19 L428.18 469.96 L428.18 485.60 M441.59 469.96 L439.35 470.70 L437.86 472.94 L437.12 476.66 L437.12 478.90 L437.86 482.62 L439.35 484.86 L441.59 485.60 L443.08 485.60 L445.31 484.86 L446.80 482.62 L447.55 478.90 L447.55 476.66 L446.80 472.94 L445.31 470.70 L443.08 469.96 L441.59 469.96 M455.79 464.50 L451.17 470.97 L458.10 470.97 M455.79 464.50 L455.79 474.20" fill="none" stroke="#000" stroke-width="0.68" stroke-linecap="round" stroke-linejoin="round" stroke-opacity="1.00"/>
<path d="M573.35 472.94 L574.84 472.19 L577.08 469.96 L577.08 485.60 M590.49 469.96 L588.25 470.70 L586.76 472.94 L586.02 476.66 L586.02 478.90 L586.76 482.62 L588.25 484.86 L590.49 485.60 L591.98 485.60 L594.21 484.86 L595.70 482.62 L596.45 478.90 L596.45 476.66 L595.70 472.94 L594.21 470.70 L591.98 469.96 L590.49 469.96 M606.07 465.89 L605.61 464.96 L604.22 464.50 L603.30 464.50 L601.91 464.96 L600.99 466.35 L600.53 468.66 L600.53 470.97 L600.99 472.82 L601.91 473.74 L603.30 474.20 L603.76 474.20 L605.15 473.74 L606.07 472.82 L606.53 471.43 L606.53 470.97 L606.07 469.58 L605.15 468.66 L603.76 468.20 L603.30 468.20 L601.91 468.66 L600.99 469.58 L600.53 470.97" fill="none" stroke="#000" stroke-width="0.68" stroke-linecap="round" stroke-linejoin="round" stroke-opacity="1.00"/>
<path d="M87.92 438.73 L89.41 437.99 L91.65 435.75 L91.65 451.40 M105.06 435.75 L102.82 436.50 L101.33 438.73 L100.59 442.46 L100.59 444.69 L101.33 448.42 L102.82 450.65 L105.06 451.40 L106.55 451.40 L108.78 450.65 L110.27 448.42 L111.02 444.69 L111.02 442.46 L110.27 438.73 L108.78 436.50 L106.55 435.75 L105.06 435.75 M115.10 435.84 L123.41 435.84 M128.96 430.30 L127.57 430.76 L127.11 431.69 L127.11 432.61 L127.57 433.53 L128.50 434.00 L130.34 434.46 L131.73 434.92 L132.65 435.84 L133.11 436.77 L133.11 438.15 L132.65 439.08 L132.19 439.54 L130.80 440.00 L128.96 440.00 L127.57 439.54 L127.11 439.08 L126.65 438.15 L126.65 436.77 L127.11 435.84 L128.03 434.92 L129.42 434.46 L131.27 434.00 L132.19 433.53 L132.65 432.61 L132.65 431.69 L132.19 430.76 L130.80 430.30 L128.96 430.30" fill="none" stroke="#000" stroke-width="0.68" stroke-linecap="round" stroke-linejoin="round" stroke-opacity="1.00"/>
<path d="M87.92 366.71 L89.41 365.97 L91.65 363.74 L91.65 379.38 M105.06 363.74 L102.82 364.48 L101.33 366.71 L100.59 370.44 L100.59 372.68 L101.33 376.40 L102.82 378.63 L105.06 379.38 L106.55 379.38 L108.78 378.63 L110.27 376.40 L111.02 372.68 L111.02 370.44 L110.27 366.71 L108.78 364.48 L106.55 363.74 L105.06 363.74 M115.10 363.82 L123.41 363.82 M133.11 358.28 L128.50 367.98 M126.65 358.28 L133.11 358.28" fill="none" stroke="#000" stroke-width="0.68" stroke-linecap="round" stroke-linejoin="round" stroke-opacity="1.00"/>
<path d="M87.92 285.39 L89.41 284.65 L91.65 282.42 L91.65 298.06 M105.06 282.42 L102.82 283.16 L101.33 285.39 L100.59 289.12 L100.59 291.36 L101.33 295.08 L102.82 297.31 L105.06 298.06 L106.55 298.06 L108.78 297.31 L110.27 295.08 L111.02 291.36 L111.02 289.12 L110.27 285.39 L108.78 283.16 L106.55 282.42 L105.06 282.42 M115.10 282.50 L123.41 282.50 M132.65 278.35 L132.19 277.42 L130.80 276.96 L129.88 276.96 L128.50 277.42 L127.57 278.81 L127.11 281.12 L127.11 283.43 L127.57 285.28 L128.50 286.20 L129.88 286.66 L130.34 286.66 L131.73 286.20 L132.65 285.28 L133.11 283.89 L133.11 283.43 L132.65 282.04 L131.73 281.12 L130.34 280.66 L129.88 280.66 L128.50 281.12 L127.57 282.04 L127.11 283.43" fill="none" stroke="#000" stroke-width="0.68" stroke-linecap="round" stroke-linejoin="round" stroke-opacity="1.00"/>
<path d="M87.92 204.07 L89.41 203.33 L91.65 201.09 L91.65 216.74 M105.06 201.09 L102.82 201.84 L101.33 204.07 L100.59 207.80 L100.59 210.03 L101.33 213.76 L102.82 215.99 L105.06 216.74 L106.55 216.74 L108.78 215.99 L110.27 213.76 L111.02 210.03 L111.02 207.80 L110.27 204.07 L108.78 201.84 L106.55 201.09 L105.06 201.09 M115.10 201.18 L123.41 201.18 M132.19 195.64 L127.57 195.64 L127.11 199.80 L127.57 199.34 L128.96 198.87 L130.34 198.87 L131.73 199.34 L132.65 200.26 L133.11 201.65 L133.11 202.57 L132.65 203.96 L131.73 204.88 L130.34 205.34 L128.96 205.34 L127.57 204.88 L127.11 204.42 L126.65 203.49" fill="none" stroke="#000" stroke-width="0.68" stroke-linecap="round" stroke-linejoin="round" stroke-opacity="1.00"/>
<path d="M87.92 122.75 L89.41 122.01 L91.65 119.77 L91.65 135.42 M105.06 119.77 L102.82 120.52 L101.33 122.75 L100.59 126.48 L100.59 128.71 L101.33 132.44 L102.82 134.67 L105.06 135.42 L106.55 135.42 L108.78 134.67 L110.27 132.44 L111.02 128.71 L111.02 126.48 L110.27 122.75 L108.78 120.52 L106.55 119.77 L105.06 119.77 M115.10 119.86 L123.41 119.86 M131.27 114.32 L126.65 120.79 L133.58 120.79 M131.27 114.32 L131.27 124.02" fill="none" stroke="#000" stroke-width="0.68" stroke-linecap="round" stroke-linejoin="round" stroke-opacity="1.00"/>
<path d="M87.92 48.23 L89.41 47.49 L91.65 45.25 L91.65 60.90 M105.06 45.25 L102.82 46.00 L101.33 48.23 L100.59 51.96 L100.59 54.20 L101.33 57.92 L102.82 60.16 L105.06 60.90 L106.55 60.90 L108.78 60.16 L110.27 57.92 L111.02 54.20 L111.02 51.96 L110.27 48.23 L108.78 46.00 L106.55 45.25 L105.06 45.25 M115.10 45.34 L123.41 45.34 M127.57 39.80 L132.65 39.80 L129.88 43.50 L131.27 43.50 L132.19 43.96 L132.65 44.42 L133.11 45.81 L133.11 46.73 L132.65 48.12 L131.73 49.04 L130.34 49.50 L128.96 49.50 L127.57 49.04 L127.11 48.58 L126.65 47.65" fill="none" stroke="#000" stroke-width="0.68" stroke-linecap="round" stroke-linejoin="round" stroke-opacity="1.00"/>
<path d="M386.68 499.56 L386.68 515.20 M386.68 499.56 L396.37 499.56 M386.68 507.01 L392.64 507.01 M386.68 515.20 L396.37 515.20 M417.97 496.58 L416.48 498.07 L414.99 500.30 L413.50 503.28 L412.76 507.01 L412.76 509.99 L413.50 513.71 L414.99 516.69 L416.48 518.93 L417.97 520.42 M433.62 503.28 L432.87 501.79 L431.38 500.30 L429.89 499.56 L426.91 499.56 L425.42 500.30 L423.93 501.79 L423.19 503.28 L422.44 505.52 L422.44 509.24 L423.19 511.48 L423.93 512.97 L425.42 514.46 L426.91 515.20 L429.89 515.20 L431.38 514.46 L432.87 512.97 L433.62 511.48 L433.62 509.24 M429.89 509.24 L433.62 509.24 M438.09 509.24 L447.03 509.24 L447.03 507.75 L446.28 506.26 L445.54 505.52 L444.05 504.77 L441.81 504.77 L440.32 505.52 L438.83 507.01 L438.09 509.24 L438.09 510.73 L438.83 512.97 L440.32 514.46 L441.81 515.20 L444.05 515.20 L445.54 514.46 L447.03 512.97 M450.01 499.56 L455.97 515.20 M461.93 499.56 L455.97 515.20 M464.91 496.58 L466.40 498.07 L467.89 500.30 L469.38 503.28 L470.12 507.01 L470.12 509.99 L469.38 513.71 L467.89 516.69 L466.40 518.93 L464.91 520.42" fill="none" stroke="#000" stroke-width="0.68" stroke-linecap="round" stroke-linejoin="round" stroke-opacity="1.00"/>
<path d="M47.20 335.19 L63.00 335.19 M47.20 335.19 L47.20 325.26 M54.72 335.19 L54.72 329.08 M63.00 335.19 L63.00 325.26 M44.02 321.84 L43.55 321.84 L42.62 321.36 L42.15 320.89 L41.69 319.94 L41.69 318.05 L42.15 317.10 L42.62 316.63 L43.55 316.15 L44.49 316.15 L45.42 316.63 L46.82 317.57 L51.49 322.31 L51.49 315.68 M57.73 301.42 L56.37 301.36 L55.10 301.64 L54.01 302.25 L53.17 303.15 L52.64 304.27 L52.46 305.55 L52.64 306.88 L53.17 308.19 L54.01 309.38 L55.10 310.37 L56.37 311.10 L57.73 311.51 L59.10 311.57 L60.37 311.29 L61.46 310.68 L62.29 309.78 L62.82 308.65 L63.00 307.38 L62.82 306.04 L62.29 304.74 L61.46 303.55 L60.37 302.56 L59.10 301.83 L57.73 301.42 M68.27 310.05 L47.20 303.18 M44.19 290.57 L45.69 292.10 L47.95 293.63 L50.96 295.16 L54.72 295.92 L57.73 295.92 L61.49 295.16 L64.51 293.63 L66.76 292.10 L68.27 290.57 M47.20 285.22 L63.00 285.22 M47.20 285.22 L47.20 275.29 M54.72 285.22 L54.72 279.11 M63.00 285.22 L63.00 275.29 M44.19 271.47 L45.69 269.94 L47.95 268.42 L50.96 266.89 L54.72 266.12 L57.73 266.12 L61.49 266.89 L64.51 268.42 L66.76 269.94 L68.27 271.47 M44.19 247.79 L68.27 261.54 M50.21 241.68 L49.45 240.15 L47.20 237.86 L63.00 237.86 M47.20 224.10 L47.95 226.40 L50.21 227.92 L53.97 228.69 L56.23 228.69 L59.99 227.92 L62.25 226.40 L63.00 224.10 L63.00 222.58 L62.25 220.28 L59.99 218.76 L56.23 217.99 L53.97 217.99 L50.21 218.76 L47.95 220.28 L47.20 222.58 L47.20 224.10 M41.69 208.60 L41.69 213.33 L45.89 213.81 L45.42 213.33 L44.95 211.91 L44.95 210.49 L45.42 209.07 L46.35 208.12 L47.75 207.65 L48.69 207.65 L50.09 208.12 L51.02 209.07 L51.49 210.49 L51.49 211.91 L51.02 213.33 L50.55 213.81 L49.62 214.28 M43.55 203.39 L43.09 202.44 L41.69 201.02 L51.49 201.02 M56.98 194.46 L56.98 185.29 L55.47 185.29 L53.97 186.06 L53.22 186.82 L52.46 188.35 L52.46 190.64 L53.22 192.17 L54.72 193.70 L56.98 194.46 L58.48 194.46 L60.74 193.70 L62.25 192.17 L63.00 190.64 L63.00 188.35 L62.25 186.82 L60.74 185.29 M52.46 179.95 L63.00 179.95 M56.98 179.95 L54.72 179.18 L53.22 177.65 L52.46 176.13 L52.46 173.83 M52.46 161.61 L64.51 161.61 L66.76 162.37 L67.52 163.14 L68.27 164.67 L68.27 166.96 L67.52 168.49 M54.72 161.61 L53.22 163.14 L52.46 164.67 L52.46 166.96 L53.22 168.49 L54.72 170.01 L56.98 170.78 L58.48 170.78 L60.74 170.01 L62.25 168.49 L63.00 166.96 L63.00 164.67 L62.25 163.14 L60.74 161.61" fill="none" stroke="#000" stroke-width="0.68" stroke-linecap="round" stroke-linejoin="round" stroke-opacity="1.00"/>
<line x1="199.9" y1="248.40" x2="239.15" y2="248.40" stroke="#0014ff" stroke-width="2.70" stroke-dasharray="13.00 4.00 2.30 4.10 2.30 4.10 2.30 4.10"/>
<path d="M244.84 233.42 L253.08 233.42 L248.59 239.20 L250.84 239.20 L252.33 239.93 L253.08 240.65 L253.83 242.82 L253.83 244.26 L253.08 246.43 L251.59 247.88 L249.34 248.60 L247.09 248.60 L244.84 247.88 L244.10 247.15 L243.35 245.71 M262.82 233.42 L260.57 234.14 L259.08 236.31 L258.33 239.93 L258.33 242.09 L259.08 245.71 L260.57 247.88 L262.82 248.60 L264.32 248.60 L266.57 247.88 L268.06 245.71 L268.81 242.09 L268.81 239.93 L268.06 236.31 L266.57 234.14 L264.32 233.42 L262.82 233.42 M277.80 233.42 L275.55 234.14 L274.06 236.31 L273.31 239.93 L273.31 242.09 L274.06 245.71 L275.55 247.88 L277.80 248.60 L279.30 248.60 L281.55 247.88 L283.04 245.71 L283.79 242.09 L283.79 239.93 L283.04 236.31 L281.55 234.14 L279.30 233.42 L277.80 233.42 M299.52 238.48 L304.02 248.60 M308.51 238.48 L304.02 248.60 L302.52 251.49 L301.02 252.94 L299.52 253.66 L298.77 253.66 M313.00 238.48 L313.00 248.60 M313.00 242.82 L313.75 240.65 L315.25 239.20 L316.75 238.48 L319.00 238.48" fill="none" stroke="#0014ff" stroke-width="0.68" stroke-linecap="round" stroke-linejoin="round" stroke-opacity="1.00"/>
<line x1="199.9" y1="289.00" x2="239.15" y2="289.00" stroke="#000000" stroke-width="2.50"/>
<path d="M253.08 276.19 L252.33 274.74 L250.09 274.02 L248.59 274.02 L246.34 274.74 L244.84 276.91 L244.10 280.53 L244.10 284.14 L244.84 287.03 L246.34 288.48 L248.59 289.20 L249.34 289.20 L251.59 288.48 L253.08 287.03 L253.83 284.86 L253.83 284.14 L253.08 281.97 L251.59 280.53 L249.34 279.80 L248.59 279.80 L246.34 280.53 L244.84 281.97 L244.10 284.14 M262.82 274.02 L260.57 274.74 L259.08 276.91 L258.33 280.53 L258.33 282.69 L259.08 286.31 L260.57 288.48 L262.82 289.20 L264.32 289.20 L266.57 288.48 L268.06 286.31 L268.81 282.69 L268.81 280.53 L268.06 276.91 L266.57 274.74 L264.32 274.02 L262.82 274.02 M277.80 274.02 L275.55 274.74 L274.06 276.91 L273.31 280.53 L273.31 282.69 L274.06 286.31 L275.55 288.48 L277.80 289.20 L279.30 289.20 L281.55 288.48 L283.04 286.31 L283.79 282.69 L283.79 280.53 L283.04 276.91 L281.55 274.74 L279.30 274.02 L277.80 274.02 M299.52 279.08 L304.02 289.20 M308.51 279.08 L304.02 289.20 L302.52 292.09 L301.02 293.54 L299.52 294.26 L298.77 294.26 M313.00 279.08 L313.00 289.20 M313.00 283.42 L313.75 281.25 L315.25 279.80 L316.75 279.08 L319.00 279.08" fill="none" stroke="#000" stroke-width="0.68" stroke-linecap="round" stroke-linejoin="round" stroke-opacity="1.00"/>
<line x1="199.9" y1="329.80" x2="239.15" y2="329.80" stroke="#ff0000" stroke-width="2.70" stroke-dasharray="2.00 4.00"/>
<path d="M244.10 318.44 L244.10 317.71 L244.84 316.27 L245.59 315.54 L247.09 314.82 L250.09 314.82 L251.59 315.54 L252.33 316.27 L253.08 317.71 L253.08 319.16 L252.33 320.60 L250.84 322.77 L243.35 330.00 L253.83 330.00 M265.82 314.82 L258.33 324.94 L269.56 324.94 M265.82 314.82 L265.82 330.00 M277.80 314.82 L275.55 315.54 L274.06 317.71 L273.31 321.33 L273.31 323.49 L274.06 327.11 L275.55 329.28 L277.80 330.00 L279.30 330.00 L281.55 329.28 L283.04 327.11 L283.79 323.49 L283.79 321.33 L283.04 317.71 L281.55 315.54 L279.30 314.82 L277.80 314.82 M292.78 314.82 L290.53 315.54 L289.04 317.71 L288.29 321.33 L288.29 323.49 L289.04 327.11 L290.53 329.28 L292.78 330.00 L294.28 330.00 L296.53 329.28 L298.02 327.11 L298.77 323.49 L298.77 321.33 L298.02 317.71 L296.53 315.54 L294.28 314.82 L292.78 314.82 M314.50 319.88 L319.00 330.00 M323.49 319.88 L319.00 330.00 L317.50 332.89 L316.00 334.34 L314.50 335.06 L313.75 335.06 M327.98 319.88 L327.98 330.00 M327.98 324.22 L328.73 322.05 L330.23 320.60 L331.73 319.88 L333.98 319.88" fill="none" stroke="#ff0000" stroke-width="0.68" stroke-linecap="round" stroke-linejoin="round" stroke-opacity="1.00"/>
<line x1="199.9" y1="370.40" x2="239.15" y2="370.40" stroke="#00ff00" stroke-width="2.70" stroke-dasharray="8.90 8.20"/>
<path d="M245.59 358.31 L247.09 357.59 L249.34 355.42 L249.34 370.60 M262.82 355.42 L260.57 356.14 L259.08 358.31 L258.33 361.93 L258.33 364.09 L259.08 367.71 L260.57 369.88 L262.82 370.60 L264.32 370.60 L266.57 369.88 L268.06 367.71 L268.81 364.09 L268.81 361.93 L268.06 358.31 L266.57 356.14 L264.32 355.42 L262.82 355.42 M280.80 355.42 L273.31 365.54 L284.54 365.54 M280.80 355.42 L280.80 370.60 M292.78 355.42 L290.53 356.14 L289.04 358.31 L288.29 361.93 L288.29 364.09 L289.04 367.71 L290.53 369.88 L292.78 370.60 L294.28 370.60 L296.53 369.88 L298.02 367.71 L298.77 364.09 L298.77 361.93 L298.02 358.31 L296.53 356.14 L294.28 355.42 L292.78 355.42 M307.76 355.42 L305.51 356.14 L304.02 358.31 L303.27 361.93 L303.27 364.09 L304.02 367.71 L305.51 369.88 L307.76 370.60 L309.26 370.60 L311.51 369.88 L313.00 367.71 L313.75 364.09 L313.75 361.93 L313.00 358.31 L311.51 356.14 L309.26 355.42 L307.76 355.42 M329.48 360.48 L333.98 370.60 M338.47 360.48 L333.98 370.60 L332.48 373.49 L330.98 374.94 L329.48 375.66 L328.73 375.66 M342.96 360.48 L342.96 370.60 M342.96 364.82 L343.71 362.65 L345.21 361.20 L346.71 360.48 L348.96 360.48" fill="none" stroke="#00ff00" stroke-width="0.68" stroke-linecap="round" stroke-linejoin="round" stroke-opacity="1.00"/>
<line x1="199.9" y1="411.00" x2="239.15" y2="411.00" stroke="#ff6000" stroke-width="2.70" stroke-dasharray="9.00 3.55 2.50 4.15"/>
<path d="M244.84 396.02 L253.08 396.02 L248.59 401.80 L250.84 401.80 L252.33 402.53 L253.08 403.25 L253.83 405.42 L253.83 406.86 L253.08 409.03 L251.59 410.48 L249.34 411.20 L247.09 411.20 L244.84 410.48 L244.10 409.75 L243.35 408.31 M262.82 396.02 L260.57 396.74 L259.08 398.91 L258.33 402.53 L258.33 404.69 L259.08 408.31 L260.57 410.48 L262.82 411.20 L264.32 411.20 L266.57 410.48 L268.06 408.31 L268.81 404.69 L268.81 402.53 L268.06 398.91 L266.57 396.74 L264.32 396.02 L262.82 396.02 M283.04 401.08 L282.30 403.25 L280.80 404.69 L278.55 405.42 L277.80 405.42 L275.55 404.69 L274.06 403.25 L273.31 401.08 L273.31 400.36 L274.06 398.19 L275.55 396.74 L277.80 396.02 L278.55 396.02 L280.80 396.74 L282.30 398.19 L283.04 401.08 L283.04 404.69 L282.30 408.31 L280.80 410.48 L278.55 411.20 L277.05 411.20 L274.81 410.48 L274.06 409.03 M292.78 396.02 L290.53 396.74 L289.04 398.91 L288.29 402.53 L288.29 404.69 L289.04 408.31 L290.53 410.48 L292.78 411.20 L294.28 411.20 L296.53 410.48 L298.02 408.31 L298.77 404.69 L298.77 402.53 L298.02 398.91 L296.53 396.74 L294.28 396.02 L292.78 396.02 M307.76 396.02 L305.51 396.74 L304.02 398.91 L303.27 402.53 L303.27 404.69 L304.02 408.31 L305.51 410.48 L307.76 411.20 L309.26 411.20 L311.51 410.48 L313.00 408.31 L313.75 404.69 L313.75 402.53 L313.00 398.91 L311.51 396.74 L309.26 396.02 L307.76 396.02 M329.48 401.08 L333.98 411.20 M338.47 401.08 L333.98 411.20 L332.48 414.09 L330.98 415.54 L329.48 416.26 L328.73 416.26 M342.96 401.08 L342.96 411.20 M342.96 405.42 L343.71 403.25 L345.21 401.80 L346.71 401.08 L348.96 401.08" fill="none" stroke="#ff6000" stroke-width="0.68" stroke-linecap="round" stroke-linejoin="round" stroke-opacity="1.00"/>
</svg>
</body></html>
